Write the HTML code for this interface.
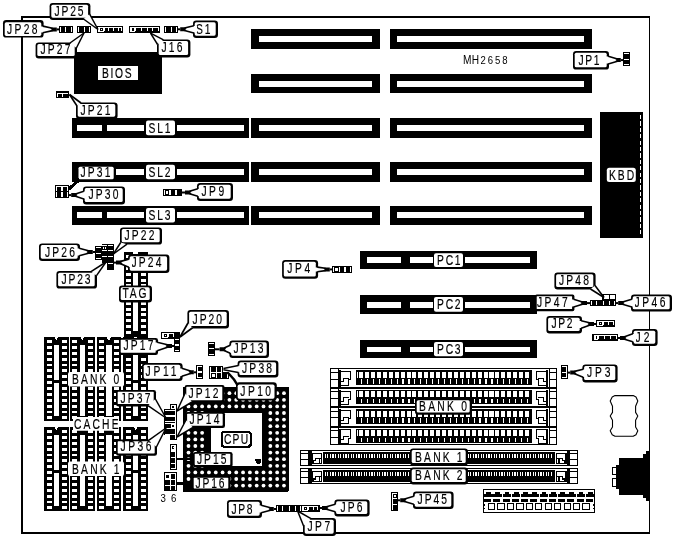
<!DOCTYPE html>
<html><head><meta charset="utf-8"><title>MH2658 motherboard layout</title>
<style>html,body{margin:0;padding:0;background:#fff}svg{display:block;filter:grayscale(1)}text{font-family:"Liberation Sans",sans-serif;fill:#000}</style></head>
<body>
<svg width="675" height="540" viewBox="0 0 675 540" shape-rendering="crispEdges">
<rect width="675" height="540" fill="#fff"/>
<rect x="21" y="16" width="629" height="2" fill="#000"/>
<rect x="21" y="16" width="2" height="518" fill="#000"/>
<rect x="21" y="532" width="629" height="2" fill="#000"/>
<rect x="649" y="16" width="1.2" height="518" fill="#000"/>
<rect x="251.2" y="29.2" width="128.8" height="19.3" fill="#000"/>
<rect x="258.6" y="35.9" width="113.8" height="6.1" fill="#fff"/>
<rect x="390" y="29.2" width="202" height="19.3" fill="#000"/>
<rect x="397.4" y="35.9" width="187" height="6.1" fill="#fff"/>
<rect x="251.2" y="74" width="128.8" height="19.3" fill="#000"/>
<rect x="258.6" y="80.7" width="113.8" height="6.1" fill="#fff"/>
<rect x="390" y="74" width="202" height="19.3" fill="#000"/>
<rect x="397.4" y="80.7" width="187" height="6.1" fill="#fff"/>
<rect x="251.2" y="118.2" width="128.8" height="19.3" fill="#000"/>
<rect x="258.6" y="124.9" width="113.8" height="6.1" fill="#fff"/>
<rect x="390" y="118.2" width="202" height="19.3" fill="#000"/>
<rect x="397.4" y="124.9" width="187" height="6.1" fill="#fff"/>
<rect x="72" y="118.2" width="177" height="19.3" fill="#000"/>
<rect x="77" y="124.9" width="25" height="6.1" fill="#fff"/>
<rect x="107" y="124.9" width="137.4" height="6.1" fill="#fff"/>
<rect x="144" y="124.2" width="33" height="8" fill="#000"/>
<g shape-rendering="geometricPrecision">
<rect x="146" y="120.6" width="29" height="14.6" fill="#fff" rx="2"/>
</g>
<text transform="translate(148.5 132.6) scale(0.72 1)" font-size="14.3" textLength="30.56" lengthAdjust="spacing" stroke="#000" stroke-width="0.18">SL1</text>
<rect x="251.2" y="162.3" width="128.8" height="19.3" fill="#000"/>
<rect x="258.6" y="169" width="113.8" height="6.1" fill="#fff"/>
<rect x="390" y="162.3" width="202" height="19.3" fill="#000"/>
<rect x="397.4" y="169" width="187" height="6.1" fill="#fff"/>
<rect x="72" y="162.3" width="177" height="19.3" fill="#000"/>
<rect x="77" y="169" width="25" height="6.1" fill="#fff"/>
<rect x="107" y="169" width="137.4" height="6.1" fill="#fff"/>
<rect x="144" y="168.3" width="33" height="8" fill="#000"/>
<g shape-rendering="geometricPrecision">
<rect x="146" y="164.7" width="29" height="14.6" fill="#fff" rx="2"/>
</g>
<text transform="translate(148.5 176.7) scale(0.72 1)" font-size="14.3" textLength="30.56" lengthAdjust="spacing" stroke="#000" stroke-width="0.18">SL2</text>
<rect x="251.2" y="205.5" width="128.8" height="19.3" fill="#000"/>
<rect x="258.6" y="212.2" width="113.8" height="6.1" fill="#fff"/>
<rect x="390" y="205.5" width="202" height="19.3" fill="#000"/>
<rect x="397.4" y="212.2" width="187" height="6.1" fill="#fff"/>
<rect x="72" y="205.5" width="177" height="19.3" fill="#000"/>
<rect x="77" y="212.2" width="25" height="6.1" fill="#fff"/>
<rect x="107" y="212.2" width="137.4" height="6.1" fill="#fff"/>
<rect x="144" y="211.5" width="33" height="8" fill="#000"/>
<g shape-rendering="geometricPrecision">
<rect x="146" y="207.9" width="29" height="14.6" fill="#fff" rx="2"/>
</g>
<text transform="translate(148.5 219.9) scale(0.72 1)" font-size="14.3" textLength="30.56" lengthAdjust="spacing" stroke="#000" stroke-width="0.18">SL3</text>
<rect x="360" y="251.2" width="177" height="17.8" fill="#000"/>
<rect x="366.8" y="257.2" width="34.2" height="5.6" fill="#fff"/>
<rect x="410" y="257.2" width="120" height="5.6" fill="#fff"/>
<rect x="432.5" y="256.2" width="32" height="7.6" fill="#000"/>
<g shape-rendering="geometricPrecision">
<rect x="434" y="253.2" width="29" height="13.8" fill="#fff" rx="2"/>
</g>
<text transform="translate(437.1 264.7) scale(0.72 1)" font-size="14.3" textLength="32.5" lengthAdjust="spacing" stroke="#000" stroke-width="0.18">PC1</text>
<rect x="360" y="295" width="177" height="18.8" fill="#000"/>
<rect x="366.8" y="302" width="34.2" height="5.6" fill="#fff"/>
<rect x="410" y="302" width="120" height="5.6" fill="#fff"/>
<rect x="432.5" y="301" width="32" height="7.6" fill="#000"/>
<g shape-rendering="geometricPrecision">
<rect x="434" y="297" width="29" height="14.8" fill="#fff" rx="2"/>
</g>
<text transform="translate(437.1 309) scale(0.72 1)" font-size="14.3" textLength="32.5" lengthAdjust="spacing" stroke="#000" stroke-width="0.18">PC2</text>
<rect x="360" y="340" width="177" height="18.3" fill="#000"/>
<rect x="366.8" y="347" width="34.2" height="5.4" fill="#fff"/>
<rect x="410" y="347" width="120" height="5.4" fill="#fff"/>
<rect x="432.5" y="346" width="32" height="7.4" fill="#000"/>
<g shape-rendering="geometricPrecision">
<rect x="434" y="342" width="29" height="14.3" fill="#fff" rx="2"/>
</g>
<text transform="translate(437.1 353.75) scale(0.72 1)" font-size="14.3" textLength="32.5" lengthAdjust="spacing" stroke="#000" stroke-width="0.18">PC3</text>
<rect x="600" y="112" width="43.4" height="125.6" fill="#000"/>
<line x1="640.6" y1="115" x2="640.6" y2="236" stroke="#fff" stroke-width="1" stroke-dasharray="4.2 2.2"/>
<g shape-rendering="geometricPrecision">
<rect x="606.8" y="167.8" width="29" height="14.2" fill="#fff" rx="2.5"/>
</g>
<text transform="translate(608.9 180) scale(0.72 1)" font-size="14.3" textLength="35" lengthAdjust="spacing" stroke="#000" stroke-width="0.18">KBD</text>
<rect x="74.4" y="52.4" width="87.6" height="41.2" fill="#000"/>
<g shape-rendering="geometricPrecision">
<rect x="98" y="66" width="40" height="14" fill="#fff"/>
</g>
<text transform="translate(101.9 77.6) scale(0.72 1)" font-size="14.3" textLength="41.11" lengthAdjust="spacing" stroke="#000" stroke-width="0.18">BIOS</text>
<text transform="translate(462.9 64) scale(0.82 1)" font-size="12.4" textLength="19.76" lengthAdjust="spacing" stroke="#000" stroke-width="0">MH</text>
<text transform="translate(480.5 64) scale(0.9 1)" font-size="10.6" textLength="30" lengthAdjust="spacing" stroke="#000" stroke-width="0">2658</text>
<rect x="123.8" y="252" width="24.2" height="85" fill="#000"/>
<rect x="126" y="255.4" width="5.2" height="2.9" fill="#fff"/>
<rect x="126" y="261.2" width="5.2" height="2.9" fill="#fff"/>
<rect x="126" y="267" width="5.2" height="2.9" fill="#fff"/>
<rect x="126" y="272.8" width="5.2" height="2.9" fill="#fff"/>
<rect x="126" y="278.6" width="5.2" height="2.9" fill="#fff"/>
<rect x="126" y="284.4" width="5.2" height="2.9" fill="#fff"/>
<rect x="126" y="290.2" width="5.2" height="2.9" fill="#fff"/>
<rect x="126" y="296" width="5.2" height="2.9" fill="#fff"/>
<rect x="126" y="301.8" width="5.2" height="2.9" fill="#fff"/>
<rect x="126" y="307.6" width="5.2" height="2.9" fill="#fff"/>
<rect x="126" y="313.4" width="5.2" height="2.9" fill="#fff"/>
<rect x="126" y="319.2" width="5.2" height="2.9" fill="#fff"/>
<rect x="126" y="325" width="5.2" height="2.9" fill="#fff"/>
<rect x="126" y="330.8" width="5.2" height="2.9" fill="#fff"/>
<rect x="141" y="255.4" width="5.3" height="2.9" fill="#fff"/>
<rect x="141" y="261.2" width="5.3" height="2.9" fill="#fff"/>
<rect x="141" y="267" width="5.3" height="2.9" fill="#fff"/>
<rect x="141" y="272.8" width="5.3" height="2.9" fill="#fff"/>
<rect x="141" y="278.6" width="5.3" height="2.9" fill="#fff"/>
<rect x="141" y="284.4" width="5.3" height="2.9" fill="#fff"/>
<rect x="141" y="290.2" width="5.3" height="2.9" fill="#fff"/>
<rect x="141" y="296" width="5.3" height="2.9" fill="#fff"/>
<rect x="141" y="301.8" width="5.3" height="2.9" fill="#fff"/>
<rect x="141" y="307.6" width="5.3" height="2.9" fill="#fff"/>
<rect x="141" y="313.4" width="5.3" height="2.9" fill="#fff"/>
<rect x="141" y="319.2" width="5.3" height="2.9" fill="#fff"/>
<rect x="141" y="325" width="5.3" height="2.9" fill="#fff"/>
<rect x="141" y="330.8" width="5.3" height="2.9" fill="#fff"/>
<rect x="133" y="256" width="5" height="74.7" fill="#fff"/>
<rect x="133.4" y="252" width="4.4" height="2" fill="#fff"/>
<rect x="44" y="337" width="24.8" height="83.6" fill="#000"/>
<rect x="47.1" y="340" width="4.9" height="2.9" fill="#fff"/>
<rect x="47.1" y="345.88" width="4.9" height="2.9" fill="#fff"/>
<rect x="47.1" y="351.76" width="4.9" height="2.9" fill="#fff"/>
<rect x="47.1" y="357.64" width="4.9" height="2.9" fill="#fff"/>
<rect x="47.1" y="363.52" width="4.9" height="2.9" fill="#fff"/>
<rect x="47.1" y="369.4" width="4.9" height="2.9" fill="#fff"/>
<rect x="47.1" y="375.28" width="4.9" height="2.9" fill="#fff"/>
<rect x="47.1" y="381.16" width="4.9" height="2.9" fill="#fff"/>
<rect x="47.1" y="387.04" width="4.9" height="2.9" fill="#fff"/>
<rect x="47.1" y="392.92" width="4.9" height="2.9" fill="#fff"/>
<rect x="47.1" y="398.8" width="4.9" height="2.9" fill="#fff"/>
<rect x="47.1" y="404.68" width="4.9" height="2.9" fill="#fff"/>
<rect x="47.1" y="410.56" width="4.9" height="2.9" fill="#fff"/>
<rect x="47.1" y="416.44" width="4.9" height="2.9" fill="#fff"/>
<rect x="62" y="340" width="5.1" height="2.9" fill="#fff"/>
<rect x="62" y="345.88" width="5.1" height="2.9" fill="#fff"/>
<rect x="62" y="351.76" width="5.1" height="2.9" fill="#fff"/>
<rect x="62" y="357.64" width="5.1" height="2.9" fill="#fff"/>
<rect x="62" y="363.52" width="5.1" height="2.9" fill="#fff"/>
<rect x="62" y="369.4" width="5.1" height="2.9" fill="#fff"/>
<rect x="62" y="375.28" width="5.1" height="2.9" fill="#fff"/>
<rect x="62" y="381.16" width="5.1" height="2.9" fill="#fff"/>
<rect x="62" y="387.04" width="5.1" height="2.9" fill="#fff"/>
<rect x="62" y="392.92" width="5.1" height="2.9" fill="#fff"/>
<rect x="62" y="398.8" width="5.1" height="2.9" fill="#fff"/>
<rect x="62" y="404.68" width="5.1" height="2.9" fill="#fff"/>
<rect x="62" y="410.56" width="5.1" height="2.9" fill="#fff"/>
<rect x="62" y="416.44" width="5.1" height="2.9" fill="#fff"/>
<rect x="53.8" y="345" width="5" height="35" fill="#fff"/>
<rect x="53.8" y="383.4" width="5" height="32.2" fill="#fff"/>
<polygon points="54.6,337 55.6,339.6 57,339.6 58,337" fill="#fff"/>
<rect x="70" y="337" width="25" height="83.6" fill="#000"/>
<rect x="72" y="340" width="5.1" height="2.9" fill="#fff"/>
<rect x="72" y="345.88" width="5.1" height="2.9" fill="#fff"/>
<rect x="72" y="351.76" width="5.1" height="2.9" fill="#fff"/>
<rect x="72" y="357.64" width="5.1" height="2.9" fill="#fff"/>
<rect x="72" y="363.52" width="5.1" height="2.9" fill="#fff"/>
<rect x="72" y="369.4" width="5.1" height="2.9" fill="#fff"/>
<rect x="72" y="375.28" width="5.1" height="2.9" fill="#fff"/>
<rect x="72" y="381.16" width="5.1" height="2.9" fill="#fff"/>
<rect x="72" y="387.04" width="5.1" height="2.9" fill="#fff"/>
<rect x="72" y="392.92" width="5.1" height="2.9" fill="#fff"/>
<rect x="72" y="398.8" width="5.1" height="2.9" fill="#fff"/>
<rect x="72" y="404.68" width="5.1" height="2.9" fill="#fff"/>
<rect x="72" y="410.56" width="5.1" height="2.9" fill="#fff"/>
<rect x="72" y="416.44" width="5.1" height="2.9" fill="#fff"/>
<rect x="88" y="340" width="5.1" height="2.9" fill="#fff"/>
<rect x="88" y="345.88" width="5.1" height="2.9" fill="#fff"/>
<rect x="88" y="351.76" width="5.1" height="2.9" fill="#fff"/>
<rect x="88" y="357.64" width="5.1" height="2.9" fill="#fff"/>
<rect x="88" y="363.52" width="5.1" height="2.9" fill="#fff"/>
<rect x="88" y="369.4" width="5.1" height="2.9" fill="#fff"/>
<rect x="88" y="375.28" width="5.1" height="2.9" fill="#fff"/>
<rect x="88" y="381.16" width="5.1" height="2.9" fill="#fff"/>
<rect x="88" y="387.04" width="5.1" height="2.9" fill="#fff"/>
<rect x="88" y="392.92" width="5.1" height="2.9" fill="#fff"/>
<rect x="88" y="398.8" width="5.1" height="2.9" fill="#fff"/>
<rect x="88" y="404.68" width="5.1" height="2.9" fill="#fff"/>
<rect x="88" y="410.56" width="5.1" height="2.9" fill="#fff"/>
<rect x="88" y="416.44" width="5.1" height="2.9" fill="#fff"/>
<rect x="79.8" y="345" width="5" height="35" fill="#fff"/>
<rect x="79.8" y="383.4" width="5" height="32.2" fill="#fff"/>
<polygon points="80.6,337 81.6,339.6 83,339.6 84,337" fill="#fff"/>
<rect x="97" y="337" width="23.8" height="83.6" fill="#000"/>
<rect x="99.1" y="340" width="4.9" height="2.9" fill="#fff"/>
<rect x="99.1" y="345.88" width="4.9" height="2.9" fill="#fff"/>
<rect x="99.1" y="351.76" width="4.9" height="2.9" fill="#fff"/>
<rect x="99.1" y="357.64" width="4.9" height="2.9" fill="#fff"/>
<rect x="99.1" y="363.52" width="4.9" height="2.9" fill="#fff"/>
<rect x="99.1" y="369.4" width="4.9" height="2.9" fill="#fff"/>
<rect x="99.1" y="375.28" width="4.9" height="2.9" fill="#fff"/>
<rect x="99.1" y="381.16" width="4.9" height="2.9" fill="#fff"/>
<rect x="99.1" y="387.04" width="4.9" height="2.9" fill="#fff"/>
<rect x="99.1" y="392.92" width="4.9" height="2.9" fill="#fff"/>
<rect x="99.1" y="398.8" width="4.9" height="2.9" fill="#fff"/>
<rect x="99.1" y="404.68" width="4.9" height="2.9" fill="#fff"/>
<rect x="99.1" y="410.56" width="4.9" height="2.9" fill="#fff"/>
<rect x="99.1" y="416.44" width="4.9" height="2.9" fill="#fff"/>
<rect x="114" y="340" width="5.3" height="2.9" fill="#fff"/>
<rect x="114" y="345.88" width="5.3" height="2.9" fill="#fff"/>
<rect x="114" y="351.76" width="5.3" height="2.9" fill="#fff"/>
<rect x="114" y="357.64" width="5.3" height="2.9" fill="#fff"/>
<rect x="114" y="363.52" width="5.3" height="2.9" fill="#fff"/>
<rect x="114" y="369.4" width="5.3" height="2.9" fill="#fff"/>
<rect x="114" y="375.28" width="5.3" height="2.9" fill="#fff"/>
<rect x="114" y="381.16" width="5.3" height="2.9" fill="#fff"/>
<rect x="114" y="387.04" width="5.3" height="2.9" fill="#fff"/>
<rect x="114" y="392.92" width="5.3" height="2.9" fill="#fff"/>
<rect x="114" y="398.8" width="5.3" height="2.9" fill="#fff"/>
<rect x="114" y="404.68" width="5.3" height="2.9" fill="#fff"/>
<rect x="114" y="410.56" width="5.3" height="2.9" fill="#fff"/>
<rect x="114" y="416.44" width="5.3" height="2.9" fill="#fff"/>
<rect x="106" y="345" width="5.8" height="35" fill="#fff"/>
<rect x="106" y="383.4" width="5.8" height="32.2" fill="#fff"/>
<polygon points="106.8,337 107.8,339.6 110,339.6 111,337" fill="#fff"/>
<rect x="122.9" y="337" width="25.1" height="83.6" fill="#000"/>
<rect x="126" y="340" width="5.2" height="2.9" fill="#fff"/>
<rect x="126" y="345.88" width="5.2" height="2.9" fill="#fff"/>
<rect x="126" y="351.76" width="5.2" height="2.9" fill="#fff"/>
<rect x="126" y="357.64" width="5.2" height="2.9" fill="#fff"/>
<rect x="126" y="363.52" width="5.2" height="2.9" fill="#fff"/>
<rect x="126" y="369.4" width="5.2" height="2.9" fill="#fff"/>
<rect x="126" y="375.28" width="5.2" height="2.9" fill="#fff"/>
<rect x="126" y="381.16" width="5.2" height="2.9" fill="#fff"/>
<rect x="126" y="387.04" width="5.2" height="2.9" fill="#fff"/>
<rect x="126" y="392.92" width="5.2" height="2.9" fill="#fff"/>
<rect x="126" y="398.8" width="5.2" height="2.9" fill="#fff"/>
<rect x="126" y="404.68" width="5.2" height="2.9" fill="#fff"/>
<rect x="126" y="410.56" width="5.2" height="2.9" fill="#fff"/>
<rect x="126" y="416.44" width="5.2" height="2.9" fill="#fff"/>
<rect x="141" y="340" width="5.3" height="2.9" fill="#fff"/>
<rect x="141" y="345.88" width="5.3" height="2.9" fill="#fff"/>
<rect x="141" y="351.76" width="5.3" height="2.9" fill="#fff"/>
<rect x="141" y="357.64" width="5.3" height="2.9" fill="#fff"/>
<rect x="141" y="363.52" width="5.3" height="2.9" fill="#fff"/>
<rect x="141" y="369.4" width="5.3" height="2.9" fill="#fff"/>
<rect x="141" y="375.28" width="5.3" height="2.9" fill="#fff"/>
<rect x="141" y="381.16" width="5.3" height="2.9" fill="#fff"/>
<rect x="141" y="387.04" width="5.3" height="2.9" fill="#fff"/>
<rect x="141" y="392.92" width="5.3" height="2.9" fill="#fff"/>
<rect x="141" y="398.8" width="5.3" height="2.9" fill="#fff"/>
<rect x="141" y="404.68" width="5.3" height="2.9" fill="#fff"/>
<rect x="141" y="410.56" width="5.3" height="2.9" fill="#fff"/>
<rect x="141" y="416.44" width="5.3" height="2.9" fill="#fff"/>
<rect x="133.4" y="345" width="4.6" height="35" fill="#fff"/>
<rect x="133.4" y="383.4" width="4.6" height="32.2" fill="#fff"/>
<polygon points="134.2,337 135.2,339.6 136.2,339.6 137.2,337" fill="#fff"/>
<rect x="44" y="427" width="24.8" height="84" fill="#000"/>
<rect x="47.1" y="430" width="4.9" height="2.9" fill="#fff"/>
<rect x="47.1" y="435.88" width="4.9" height="2.9" fill="#fff"/>
<rect x="47.1" y="441.76" width="4.9" height="2.9" fill="#fff"/>
<rect x="47.1" y="447.64" width="4.9" height="2.9" fill="#fff"/>
<rect x="47.1" y="453.52" width="4.9" height="2.9" fill="#fff"/>
<rect x="47.1" y="459.4" width="4.9" height="2.9" fill="#fff"/>
<rect x="47.1" y="465.28" width="4.9" height="2.9" fill="#fff"/>
<rect x="47.1" y="471.16" width="4.9" height="2.9" fill="#fff"/>
<rect x="47.1" y="477.04" width="4.9" height="2.9" fill="#fff"/>
<rect x="47.1" y="482.92" width="4.9" height="2.9" fill="#fff"/>
<rect x="47.1" y="488.8" width="4.9" height="2.9" fill="#fff"/>
<rect x="47.1" y="494.68" width="4.9" height="2.9" fill="#fff"/>
<rect x="47.1" y="500.56" width="4.9" height="2.9" fill="#fff"/>
<rect x="47.1" y="506.44" width="4.9" height="2.9" fill="#fff"/>
<rect x="62" y="430" width="5.1" height="2.9" fill="#fff"/>
<rect x="62" y="435.88" width="5.1" height="2.9" fill="#fff"/>
<rect x="62" y="441.76" width="5.1" height="2.9" fill="#fff"/>
<rect x="62" y="447.64" width="5.1" height="2.9" fill="#fff"/>
<rect x="62" y="453.52" width="5.1" height="2.9" fill="#fff"/>
<rect x="62" y="459.4" width="5.1" height="2.9" fill="#fff"/>
<rect x="62" y="465.28" width="5.1" height="2.9" fill="#fff"/>
<rect x="62" y="471.16" width="5.1" height="2.9" fill="#fff"/>
<rect x="62" y="477.04" width="5.1" height="2.9" fill="#fff"/>
<rect x="62" y="482.92" width="5.1" height="2.9" fill="#fff"/>
<rect x="62" y="488.8" width="5.1" height="2.9" fill="#fff"/>
<rect x="62" y="494.68" width="5.1" height="2.9" fill="#fff"/>
<rect x="62" y="500.56" width="5.1" height="2.9" fill="#fff"/>
<rect x="62" y="506.44" width="5.1" height="2.9" fill="#fff"/>
<rect x="53.8" y="435" width="5" height="35" fill="#fff"/>
<rect x="53.8" y="473.4" width="5" height="32.6" fill="#fff"/>
<polygon points="54.6,427 55.6,429.6 57,429.6 58,427" fill="#fff"/>
<rect x="70" y="427" width="25" height="84" fill="#000"/>
<rect x="72" y="430" width="5.1" height="2.9" fill="#fff"/>
<rect x="72" y="435.88" width="5.1" height="2.9" fill="#fff"/>
<rect x="72" y="441.76" width="5.1" height="2.9" fill="#fff"/>
<rect x="72" y="447.64" width="5.1" height="2.9" fill="#fff"/>
<rect x="72" y="453.52" width="5.1" height="2.9" fill="#fff"/>
<rect x="72" y="459.4" width="5.1" height="2.9" fill="#fff"/>
<rect x="72" y="465.28" width="5.1" height="2.9" fill="#fff"/>
<rect x="72" y="471.16" width="5.1" height="2.9" fill="#fff"/>
<rect x="72" y="477.04" width="5.1" height="2.9" fill="#fff"/>
<rect x="72" y="482.92" width="5.1" height="2.9" fill="#fff"/>
<rect x="72" y="488.8" width="5.1" height="2.9" fill="#fff"/>
<rect x="72" y="494.68" width="5.1" height="2.9" fill="#fff"/>
<rect x="72" y="500.56" width="5.1" height="2.9" fill="#fff"/>
<rect x="72" y="506.44" width="5.1" height="2.9" fill="#fff"/>
<rect x="88" y="430" width="5.1" height="2.9" fill="#fff"/>
<rect x="88" y="435.88" width="5.1" height="2.9" fill="#fff"/>
<rect x="88" y="441.76" width="5.1" height="2.9" fill="#fff"/>
<rect x="88" y="447.64" width="5.1" height="2.9" fill="#fff"/>
<rect x="88" y="453.52" width="5.1" height="2.9" fill="#fff"/>
<rect x="88" y="459.4" width="5.1" height="2.9" fill="#fff"/>
<rect x="88" y="465.28" width="5.1" height="2.9" fill="#fff"/>
<rect x="88" y="471.16" width="5.1" height="2.9" fill="#fff"/>
<rect x="88" y="477.04" width="5.1" height="2.9" fill="#fff"/>
<rect x="88" y="482.92" width="5.1" height="2.9" fill="#fff"/>
<rect x="88" y="488.8" width="5.1" height="2.9" fill="#fff"/>
<rect x="88" y="494.68" width="5.1" height="2.9" fill="#fff"/>
<rect x="88" y="500.56" width="5.1" height="2.9" fill="#fff"/>
<rect x="88" y="506.44" width="5.1" height="2.9" fill="#fff"/>
<rect x="79.8" y="435" width="5" height="35" fill="#fff"/>
<rect x="79.8" y="473.4" width="5" height="32.6" fill="#fff"/>
<polygon points="80.6,427 81.6,429.6 83,429.6 84,427" fill="#fff"/>
<rect x="97" y="427" width="23.8" height="84" fill="#000"/>
<rect x="99.1" y="430" width="4.9" height="2.9" fill="#fff"/>
<rect x="99.1" y="435.88" width="4.9" height="2.9" fill="#fff"/>
<rect x="99.1" y="441.76" width="4.9" height="2.9" fill="#fff"/>
<rect x="99.1" y="447.64" width="4.9" height="2.9" fill="#fff"/>
<rect x="99.1" y="453.52" width="4.9" height="2.9" fill="#fff"/>
<rect x="99.1" y="459.4" width="4.9" height="2.9" fill="#fff"/>
<rect x="99.1" y="465.28" width="4.9" height="2.9" fill="#fff"/>
<rect x="99.1" y="471.16" width="4.9" height="2.9" fill="#fff"/>
<rect x="99.1" y="477.04" width="4.9" height="2.9" fill="#fff"/>
<rect x="99.1" y="482.92" width="4.9" height="2.9" fill="#fff"/>
<rect x="99.1" y="488.8" width="4.9" height="2.9" fill="#fff"/>
<rect x="99.1" y="494.68" width="4.9" height="2.9" fill="#fff"/>
<rect x="99.1" y="500.56" width="4.9" height="2.9" fill="#fff"/>
<rect x="99.1" y="506.44" width="4.9" height="2.9" fill="#fff"/>
<rect x="114" y="430" width="5.3" height="2.9" fill="#fff"/>
<rect x="114" y="435.88" width="5.3" height="2.9" fill="#fff"/>
<rect x="114" y="441.76" width="5.3" height="2.9" fill="#fff"/>
<rect x="114" y="447.64" width="5.3" height="2.9" fill="#fff"/>
<rect x="114" y="453.52" width="5.3" height="2.9" fill="#fff"/>
<rect x="114" y="459.4" width="5.3" height="2.9" fill="#fff"/>
<rect x="114" y="465.28" width="5.3" height="2.9" fill="#fff"/>
<rect x="114" y="471.16" width="5.3" height="2.9" fill="#fff"/>
<rect x="114" y="477.04" width="5.3" height="2.9" fill="#fff"/>
<rect x="114" y="482.92" width="5.3" height="2.9" fill="#fff"/>
<rect x="114" y="488.8" width="5.3" height="2.9" fill="#fff"/>
<rect x="114" y="494.68" width="5.3" height="2.9" fill="#fff"/>
<rect x="114" y="500.56" width="5.3" height="2.9" fill="#fff"/>
<rect x="114" y="506.44" width="5.3" height="2.9" fill="#fff"/>
<rect x="106" y="435" width="5.8" height="35" fill="#fff"/>
<rect x="106" y="473.4" width="5.8" height="32.6" fill="#fff"/>
<polygon points="106.8,427 107.8,429.6 110,429.6 111,427" fill="#fff"/>
<rect x="122.9" y="427" width="25.1" height="84" fill="#000"/>
<rect x="126" y="430" width="5.2" height="2.9" fill="#fff"/>
<rect x="126" y="435.88" width="5.2" height="2.9" fill="#fff"/>
<rect x="126" y="441.76" width="5.2" height="2.9" fill="#fff"/>
<rect x="126" y="447.64" width="5.2" height="2.9" fill="#fff"/>
<rect x="126" y="453.52" width="5.2" height="2.9" fill="#fff"/>
<rect x="126" y="459.4" width="5.2" height="2.9" fill="#fff"/>
<rect x="126" y="465.28" width="5.2" height="2.9" fill="#fff"/>
<rect x="126" y="471.16" width="5.2" height="2.9" fill="#fff"/>
<rect x="126" y="477.04" width="5.2" height="2.9" fill="#fff"/>
<rect x="126" y="482.92" width="5.2" height="2.9" fill="#fff"/>
<rect x="126" y="488.8" width="5.2" height="2.9" fill="#fff"/>
<rect x="126" y="494.68" width="5.2" height="2.9" fill="#fff"/>
<rect x="126" y="500.56" width="5.2" height="2.9" fill="#fff"/>
<rect x="126" y="506.44" width="5.2" height="2.9" fill="#fff"/>
<rect x="141" y="430" width="5.3" height="2.9" fill="#fff"/>
<rect x="141" y="435.88" width="5.3" height="2.9" fill="#fff"/>
<rect x="141" y="441.76" width="5.3" height="2.9" fill="#fff"/>
<rect x="141" y="447.64" width="5.3" height="2.9" fill="#fff"/>
<rect x="141" y="453.52" width="5.3" height="2.9" fill="#fff"/>
<rect x="141" y="459.4" width="5.3" height="2.9" fill="#fff"/>
<rect x="141" y="465.28" width="5.3" height="2.9" fill="#fff"/>
<rect x="141" y="471.16" width="5.3" height="2.9" fill="#fff"/>
<rect x="141" y="477.04" width="5.3" height="2.9" fill="#fff"/>
<rect x="141" y="482.92" width="5.3" height="2.9" fill="#fff"/>
<rect x="141" y="488.8" width="5.3" height="2.9" fill="#fff"/>
<rect x="141" y="494.68" width="5.3" height="2.9" fill="#fff"/>
<rect x="141" y="500.56" width="5.3" height="2.9" fill="#fff"/>
<rect x="141" y="506.44" width="5.3" height="2.9" fill="#fff"/>
<rect x="133.4" y="435" width="4.6" height="35" fill="#fff"/>
<rect x="133.4" y="473.4" width="4.6" height="32.6" fill="#fff"/>
<polygon points="134.2,427 135.2,429.6 136.2,429.6 137.2,427" fill="#fff"/>
<polygon points="183.4,387 289,387 289,490.8 287.4,492.4 183.4,492.4" fill="#000"/>
<circle cx="188.5" cy="393.2" r="1.9" fill="#fff" shape-rendering="geometricPrecision"/>
<circle cx="188.5" cy="399.8" r="1.9" fill="#fff" shape-rendering="geometricPrecision"/>
<circle cx="188.5" cy="406.4" r="1.9" fill="#fff" shape-rendering="geometricPrecision"/>
<circle cx="188.5" cy="413" r="1.9" fill="#fff" shape-rendering="geometricPrecision"/>
<circle cx="188.5" cy="419.6" r="1.9" fill="#fff" shape-rendering="geometricPrecision"/>
<circle cx="188.5" cy="426.2" r="1.9" fill="#fff" shape-rendering="geometricPrecision"/>
<circle cx="188.5" cy="432.8" r="1.9" fill="#fff" shape-rendering="geometricPrecision"/>
<circle cx="188.5" cy="439.4" r="1.9" fill="#fff" shape-rendering="geometricPrecision"/>
<circle cx="188.5" cy="446" r="1.9" fill="#fff" shape-rendering="geometricPrecision"/>
<circle cx="188.5" cy="452.6" r="1.9" fill="#fff" shape-rendering="geometricPrecision"/>
<circle cx="188.5" cy="459.2" r="1.9" fill="#fff" shape-rendering="geometricPrecision"/>
<circle cx="188.5" cy="465.8" r="1.9" fill="#fff" shape-rendering="geometricPrecision"/>
<circle cx="188.5" cy="472.4" r="1.9" fill="#fff" shape-rendering="geometricPrecision"/>
<circle cx="188.5" cy="479" r="1.9" fill="#fff" shape-rendering="geometricPrecision"/>
<circle cx="195.32" cy="393.2" r="1.9" fill="#fff" shape-rendering="geometricPrecision"/>
<circle cx="195.32" cy="399.8" r="1.9" fill="#fff" shape-rendering="geometricPrecision"/>
<circle cx="195.32" cy="406.4" r="1.9" fill="#fff" shape-rendering="geometricPrecision"/>
<circle cx="195.32" cy="413" r="1.9" fill="#fff" shape-rendering="geometricPrecision"/>
<circle cx="195.32" cy="419.6" r="1.9" fill="#fff" shape-rendering="geometricPrecision"/>
<circle cx="195.32" cy="426.2" r="1.9" fill="#fff" shape-rendering="geometricPrecision"/>
<circle cx="195.32" cy="432.8" r="1.9" fill="#fff" shape-rendering="geometricPrecision"/>
<circle cx="195.32" cy="439.4" r="1.9" fill="#fff" shape-rendering="geometricPrecision"/>
<circle cx="195.32" cy="446" r="1.9" fill="#fff" shape-rendering="geometricPrecision"/>
<circle cx="195.32" cy="452.6" r="1.9" fill="#fff" shape-rendering="geometricPrecision"/>
<circle cx="195.32" cy="459.2" r="1.9" fill="#fff" shape-rendering="geometricPrecision"/>
<circle cx="195.32" cy="465.8" r="1.9" fill="#fff" shape-rendering="geometricPrecision"/>
<circle cx="195.32" cy="472.4" r="1.9" fill="#fff" shape-rendering="geometricPrecision"/>
<circle cx="195.32" cy="479" r="1.9" fill="#fff" shape-rendering="geometricPrecision"/>
<circle cx="195.32" cy="485.6" r="1.9" fill="#fff" shape-rendering="geometricPrecision"/>
<circle cx="202.14" cy="393.2" r="1.9" fill="#fff" shape-rendering="geometricPrecision"/>
<circle cx="202.14" cy="399.8" r="1.9" fill="#fff" shape-rendering="geometricPrecision"/>
<circle cx="202.14" cy="406.4" r="1.9" fill="#fff" shape-rendering="geometricPrecision"/>
<circle cx="202.14" cy="413" r="1.9" fill="#fff" shape-rendering="geometricPrecision"/>
<circle cx="202.14" cy="419.6" r="1.9" fill="#fff" shape-rendering="geometricPrecision"/>
<circle cx="202.14" cy="426.2" r="1.9" fill="#fff" shape-rendering="geometricPrecision"/>
<circle cx="202.14" cy="432.8" r="1.9" fill="#fff" shape-rendering="geometricPrecision"/>
<circle cx="202.14" cy="439.4" r="1.9" fill="#fff" shape-rendering="geometricPrecision"/>
<circle cx="202.14" cy="446" r="1.9" fill="#fff" shape-rendering="geometricPrecision"/>
<circle cx="202.14" cy="452.6" r="1.9" fill="#fff" shape-rendering="geometricPrecision"/>
<circle cx="202.14" cy="459.2" r="1.9" fill="#fff" shape-rendering="geometricPrecision"/>
<circle cx="202.14" cy="465.8" r="1.9" fill="#fff" shape-rendering="geometricPrecision"/>
<circle cx="202.14" cy="472.4" r="1.9" fill="#fff" shape-rendering="geometricPrecision"/>
<circle cx="202.14" cy="479" r="1.9" fill="#fff" shape-rendering="geometricPrecision"/>
<circle cx="202.14" cy="485.6" r="1.9" fill="#fff" shape-rendering="geometricPrecision"/>
<circle cx="208.96" cy="393.2" r="1.9" fill="#fff" shape-rendering="geometricPrecision"/>
<circle cx="208.96" cy="399.8" r="1.9" fill="#fff" shape-rendering="geometricPrecision"/>
<circle cx="208.96" cy="406.4" r="1.9" fill="#fff" shape-rendering="geometricPrecision"/>
<circle cx="208.96" cy="472.4" r="1.9" fill="#fff" shape-rendering="geometricPrecision"/>
<circle cx="208.96" cy="479" r="1.9" fill="#fff" shape-rendering="geometricPrecision"/>
<circle cx="208.96" cy="485.6" r="1.9" fill="#fff" shape-rendering="geometricPrecision"/>
<circle cx="215.78" cy="393.2" r="1.9" fill="#fff" shape-rendering="geometricPrecision"/>
<circle cx="215.78" cy="399.8" r="1.9" fill="#fff" shape-rendering="geometricPrecision"/>
<circle cx="215.78" cy="406.4" r="1.9" fill="#fff" shape-rendering="geometricPrecision"/>
<circle cx="215.78" cy="472.4" r="1.9" fill="#fff" shape-rendering="geometricPrecision"/>
<circle cx="215.78" cy="479" r="1.9" fill="#fff" shape-rendering="geometricPrecision"/>
<circle cx="215.78" cy="485.6" r="1.9" fill="#fff" shape-rendering="geometricPrecision"/>
<circle cx="222.6" cy="393.2" r="1.9" fill="#fff" shape-rendering="geometricPrecision"/>
<circle cx="222.6" cy="399.8" r="1.9" fill="#fff" shape-rendering="geometricPrecision"/>
<circle cx="222.6" cy="406.4" r="1.9" fill="#fff" shape-rendering="geometricPrecision"/>
<circle cx="222.6" cy="472.4" r="1.9" fill="#fff" shape-rendering="geometricPrecision"/>
<circle cx="222.6" cy="479" r="1.9" fill="#fff" shape-rendering="geometricPrecision"/>
<circle cx="222.6" cy="485.6" r="1.9" fill="#fff" shape-rendering="geometricPrecision"/>
<circle cx="229.42" cy="393.2" r="1.9" fill="#fff" shape-rendering="geometricPrecision"/>
<circle cx="229.42" cy="399.8" r="1.9" fill="#fff" shape-rendering="geometricPrecision"/>
<circle cx="229.42" cy="406.4" r="1.9" fill="#fff" shape-rendering="geometricPrecision"/>
<circle cx="229.42" cy="472.4" r="1.9" fill="#fff" shape-rendering="geometricPrecision"/>
<circle cx="229.42" cy="479" r="1.9" fill="#fff" shape-rendering="geometricPrecision"/>
<circle cx="229.42" cy="485.6" r="1.9" fill="#fff" shape-rendering="geometricPrecision"/>
<circle cx="236.24" cy="393.2" r="1.9" fill="#fff" shape-rendering="geometricPrecision"/>
<circle cx="236.24" cy="399.8" r="1.9" fill="#fff" shape-rendering="geometricPrecision"/>
<circle cx="236.24" cy="406.4" r="1.9" fill="#fff" shape-rendering="geometricPrecision"/>
<circle cx="236.24" cy="472.4" r="1.9" fill="#fff" shape-rendering="geometricPrecision"/>
<circle cx="236.24" cy="479" r="1.9" fill="#fff" shape-rendering="geometricPrecision"/>
<circle cx="236.24" cy="485.6" r="1.9" fill="#fff" shape-rendering="geometricPrecision"/>
<circle cx="243.06" cy="393.2" r="1.9" fill="#fff" shape-rendering="geometricPrecision"/>
<circle cx="243.06" cy="399.8" r="1.9" fill="#fff" shape-rendering="geometricPrecision"/>
<circle cx="243.06" cy="406.4" r="1.9" fill="#fff" shape-rendering="geometricPrecision"/>
<circle cx="243.06" cy="472.4" r="1.9" fill="#fff" shape-rendering="geometricPrecision"/>
<circle cx="243.06" cy="479" r="1.9" fill="#fff" shape-rendering="geometricPrecision"/>
<circle cx="243.06" cy="485.6" r="1.9" fill="#fff" shape-rendering="geometricPrecision"/>
<circle cx="249.88" cy="393.2" r="1.9" fill="#fff" shape-rendering="geometricPrecision"/>
<circle cx="249.88" cy="399.8" r="1.9" fill="#fff" shape-rendering="geometricPrecision"/>
<circle cx="249.88" cy="406.4" r="1.9" fill="#fff" shape-rendering="geometricPrecision"/>
<circle cx="249.88" cy="472.4" r="1.9" fill="#fff" shape-rendering="geometricPrecision"/>
<circle cx="249.88" cy="479" r="1.9" fill="#fff" shape-rendering="geometricPrecision"/>
<circle cx="249.88" cy="485.6" r="1.9" fill="#fff" shape-rendering="geometricPrecision"/>
<circle cx="256.7" cy="393.2" r="1.9" fill="#fff" shape-rendering="geometricPrecision"/>
<circle cx="256.7" cy="399.8" r="1.9" fill="#fff" shape-rendering="geometricPrecision"/>
<circle cx="256.7" cy="406.4" r="1.9" fill="#fff" shape-rendering="geometricPrecision"/>
<circle cx="256.7" cy="472.4" r="1.9" fill="#fff" shape-rendering="geometricPrecision"/>
<circle cx="256.7" cy="479" r="1.9" fill="#fff" shape-rendering="geometricPrecision"/>
<circle cx="256.7" cy="485.6" r="1.9" fill="#fff" shape-rendering="geometricPrecision"/>
<circle cx="263.52" cy="393.2" r="1.9" fill="#fff" shape-rendering="geometricPrecision"/>
<circle cx="263.52" cy="399.8" r="1.9" fill="#fff" shape-rendering="geometricPrecision"/>
<circle cx="263.52" cy="406.4" r="1.9" fill="#fff" shape-rendering="geometricPrecision"/>
<circle cx="263.52" cy="472.4" r="1.9" fill="#fff" shape-rendering="geometricPrecision"/>
<circle cx="263.52" cy="479" r="1.9" fill="#fff" shape-rendering="geometricPrecision"/>
<circle cx="263.52" cy="485.6" r="1.9" fill="#fff" shape-rendering="geometricPrecision"/>
<circle cx="270.34" cy="393.2" r="1.9" fill="#fff" shape-rendering="geometricPrecision"/>
<circle cx="270.34" cy="399.8" r="1.9" fill="#fff" shape-rendering="geometricPrecision"/>
<circle cx="270.34" cy="406.4" r="1.9" fill="#fff" shape-rendering="geometricPrecision"/>
<circle cx="270.34" cy="413" r="1.9" fill="#fff" shape-rendering="geometricPrecision"/>
<circle cx="270.34" cy="419.6" r="1.9" fill="#fff" shape-rendering="geometricPrecision"/>
<circle cx="270.34" cy="426.2" r="1.9" fill="#fff" shape-rendering="geometricPrecision"/>
<circle cx="270.34" cy="432.8" r="1.9" fill="#fff" shape-rendering="geometricPrecision"/>
<circle cx="270.34" cy="439.4" r="1.9" fill="#fff" shape-rendering="geometricPrecision"/>
<circle cx="270.34" cy="446" r="1.9" fill="#fff" shape-rendering="geometricPrecision"/>
<circle cx="270.34" cy="452.6" r="1.9" fill="#fff" shape-rendering="geometricPrecision"/>
<circle cx="270.34" cy="459.2" r="1.9" fill="#fff" shape-rendering="geometricPrecision"/>
<circle cx="270.34" cy="465.8" r="1.9" fill="#fff" shape-rendering="geometricPrecision"/>
<circle cx="270.34" cy="472.4" r="1.9" fill="#fff" shape-rendering="geometricPrecision"/>
<circle cx="270.34" cy="479" r="1.9" fill="#fff" shape-rendering="geometricPrecision"/>
<circle cx="270.34" cy="485.6" r="1.9" fill="#fff" shape-rendering="geometricPrecision"/>
<circle cx="277.16" cy="393.2" r="1.9" fill="#fff" shape-rendering="geometricPrecision"/>
<circle cx="277.16" cy="399.8" r="1.9" fill="#fff" shape-rendering="geometricPrecision"/>
<circle cx="277.16" cy="406.4" r="1.9" fill="#fff" shape-rendering="geometricPrecision"/>
<circle cx="277.16" cy="413" r="1.9" fill="#fff" shape-rendering="geometricPrecision"/>
<circle cx="277.16" cy="419.6" r="1.9" fill="#fff" shape-rendering="geometricPrecision"/>
<circle cx="277.16" cy="426.2" r="1.9" fill="#fff" shape-rendering="geometricPrecision"/>
<circle cx="277.16" cy="432.8" r="1.9" fill="#fff" shape-rendering="geometricPrecision"/>
<circle cx="277.16" cy="439.4" r="1.9" fill="#fff" shape-rendering="geometricPrecision"/>
<circle cx="277.16" cy="446" r="1.9" fill="#fff" shape-rendering="geometricPrecision"/>
<circle cx="277.16" cy="452.6" r="1.9" fill="#fff" shape-rendering="geometricPrecision"/>
<circle cx="277.16" cy="459.2" r="1.9" fill="#fff" shape-rendering="geometricPrecision"/>
<circle cx="277.16" cy="465.8" r="1.9" fill="#fff" shape-rendering="geometricPrecision"/>
<circle cx="277.16" cy="472.4" r="1.9" fill="#fff" shape-rendering="geometricPrecision"/>
<circle cx="277.16" cy="479" r="1.9" fill="#fff" shape-rendering="geometricPrecision"/>
<circle cx="277.16" cy="485.6" r="1.9" fill="#fff" shape-rendering="geometricPrecision"/>
<circle cx="283.98" cy="393.2" r="1.9" fill="#fff" shape-rendering="geometricPrecision"/>
<circle cx="283.98" cy="399.8" r="1.9" fill="#fff" shape-rendering="geometricPrecision"/>
<circle cx="283.98" cy="406.4" r="1.9" fill="#fff" shape-rendering="geometricPrecision"/>
<circle cx="283.98" cy="413" r="1.9" fill="#fff" shape-rendering="geometricPrecision"/>
<circle cx="283.98" cy="419.6" r="1.9" fill="#fff" shape-rendering="geometricPrecision"/>
<circle cx="283.98" cy="426.2" r="1.9" fill="#fff" shape-rendering="geometricPrecision"/>
<circle cx="283.98" cy="432.8" r="1.9" fill="#fff" shape-rendering="geometricPrecision"/>
<circle cx="283.98" cy="439.4" r="1.9" fill="#fff" shape-rendering="geometricPrecision"/>
<circle cx="283.98" cy="446" r="1.9" fill="#fff" shape-rendering="geometricPrecision"/>
<circle cx="283.98" cy="452.6" r="1.9" fill="#fff" shape-rendering="geometricPrecision"/>
<circle cx="283.98" cy="459.2" r="1.9" fill="#fff" shape-rendering="geometricPrecision"/>
<circle cx="283.98" cy="465.8" r="1.9" fill="#fff" shape-rendering="geometricPrecision"/>
<circle cx="283.98" cy="472.4" r="1.9" fill="#fff" shape-rendering="geometricPrecision"/>
<circle cx="283.98" cy="479" r="1.9" fill="#fff" shape-rendering="geometricPrecision"/>
<circle cx="283.98" cy="485.6" r="1.9" fill="#fff" shape-rendering="geometricPrecision"/>
<rect x="210.6" y="413" width="51.4" height="53" fill="#fff"/>
<polygon points="255.6,459 261,459 261,462.6 259.6,464 257.6,464 255,460.6" fill="#000"/>
<rect x="330.2" y="368.2" width="226.8" height="20.1" fill="#000"/>
<rect x="331.2" y="369.2" width="224.8" height="17.9" fill="#fff"/>
<rect x="536.1" y="371" width="10.3" height="1" fill="#000"/>
<rect x="536.1" y="371" width="1" height="9.4" fill="#000"/>
<rect x="536.1" y="379.4" width="3.1" height="1" fill="#000"/>
<rect x="538.2" y="379.4" width="1" height="6.1" fill="#000"/>
<rect x="538.2" y="384.5" width="8.2" height="1" fill="#000"/>
<rect x="538.4" y="377.8" width="5.4" height="1" fill="#000"/>
<rect x="542.8" y="377.8" width="1" height="4.2" fill="#000"/>
<rect x="542.8" y="381" width="3.6" height="1" fill="#000"/>
<rect x="546" y="370.2" width="1.8" height="17.5" fill="#000"/>
<rect x="548.7" y="368.2" width="1" height="19.5" fill="#000"/>
<rect x="549.7" y="371.8" width="7.3" height="1" fill="#000"/>
<rect x="549.7" y="378.5" width="7.3" height="1" fill="#000"/>
<g transform="translate(887.2 0) scale(-1 1)">
<rect x="536.1" y="371" width="10.3" height="1" fill="#000"/>
<rect x="536.1" y="371" width="1" height="9.4" fill="#000"/>
<rect x="536.1" y="379.4" width="3.1" height="1" fill="#000"/>
<rect x="538.2" y="379.4" width="1" height="6.1" fill="#000"/>
<rect x="538.2" y="384.5" width="8.2" height="1" fill="#000"/>
<rect x="538.4" y="377.8" width="5.4" height="1" fill="#000"/>
<rect x="542.8" y="377.8" width="1" height="4.2" fill="#000"/>
<rect x="542.8" y="381" width="3.6" height="1" fill="#000"/>
<rect x="546" y="370.2" width="1.8" height="17.5" fill="#000"/>
<rect x="548.7" y="368.2" width="1" height="19.5" fill="#000"/>
<rect x="549.7" y="371.8" width="7.3" height="1" fill="#000"/>
<rect x="549.7" y="378.5" width="7.3" height="1" fill="#000"/>
</g>
<rect x="356.2" y="370.2" width="175.8" height="14.7" fill="#000"/>
<rect x="357.3" y="371.8" width="0.8" height="6.1" fill="#fff"/>
<rect x="359.1" y="371.9" width="4.07" height="6" fill="#fff"/>
<rect x="360.96" y="379.2" width="1.2" height="4.7" fill="#fff"/>
<rect x="365.02" y="371.9" width="4.07" height="6" fill="#fff"/>
<rect x="366.89" y="379.2" width="1.2" height="4.7" fill="#fff"/>
<rect x="370.95" y="371.9" width="4.07" height="6" fill="#fff"/>
<rect x="372.81" y="379.2" width="1.2" height="4.7" fill="#fff"/>
<rect x="376.87" y="371.9" width="4.07" height="6" fill="#fff"/>
<rect x="378.74" y="379.2" width="1.2" height="4.7" fill="#fff"/>
<rect x="382.8" y="371.9" width="4.07" height="6" fill="#fff"/>
<rect x="384.66" y="379.2" width="1.2" height="4.7" fill="#fff"/>
<rect x="388.72" y="371.9" width="4.07" height="6" fill="#fff"/>
<rect x="390.59" y="379.2" width="1.2" height="4.7" fill="#fff"/>
<rect x="394.65" y="371.9" width="4.07" height="6" fill="#fff"/>
<rect x="396.51" y="379.2" width="1.2" height="4.7" fill="#fff"/>
<rect x="400.57" y="371.9" width="4.07" height="6" fill="#fff"/>
<rect x="402.44" y="379.2" width="1.2" height="4.7" fill="#fff"/>
<rect x="406.5" y="371.9" width="4.07" height="6" fill="#fff"/>
<rect x="408.36" y="379.2" width="1.2" height="4.7" fill="#fff"/>
<rect x="412.42" y="371.9" width="4.07" height="6" fill="#fff"/>
<rect x="414.29" y="379.2" width="1.2" height="4.7" fill="#fff"/>
<rect x="418.35" y="371.9" width="4.07" height="6" fill="#fff"/>
<rect x="420.21" y="379.2" width="1.2" height="4.7" fill="#fff"/>
<rect x="424.27" y="371.9" width="4.07" height="6" fill="#fff"/>
<rect x="426.14" y="379.2" width="1.2" height="4.7" fill="#fff"/>
<rect x="430.2" y="371.9" width="4.07" height="6" fill="#fff"/>
<rect x="432.06" y="379.2" width="1.2" height="4.7" fill="#fff"/>
<rect x="436.12" y="371.9" width="4.07" height="6" fill="#fff"/>
<rect x="437.99" y="379.2" width="1.2" height="4.7" fill="#fff"/>
<rect x="442.05" y="371.9" width="4.07" height="6" fill="#fff"/>
<rect x="443.91" y="379.2" width="1.2" height="4.7" fill="#fff"/>
<rect x="447.97" y="371.9" width="4.07" height="6" fill="#fff"/>
<rect x="449.84" y="379.2" width="1.2" height="4.7" fill="#fff"/>
<rect x="453.9" y="371.9" width="4.07" height="6" fill="#fff"/>
<rect x="455.76" y="379.2" width="1.2" height="4.7" fill="#fff"/>
<rect x="459.82" y="371.9" width="4.07" height="6" fill="#fff"/>
<rect x="461.69" y="379.2" width="1.2" height="4.7" fill="#fff"/>
<rect x="465.75" y="371.9" width="4.07" height="6" fill="#fff"/>
<rect x="467.61" y="379.2" width="1.2" height="4.7" fill="#fff"/>
<rect x="471.67" y="371.9" width="4.07" height="6" fill="#fff"/>
<rect x="473.54" y="379.2" width="1.2" height="4.7" fill="#fff"/>
<rect x="477.6" y="371.9" width="4.07" height="6" fill="#fff"/>
<rect x="479.46" y="379.2" width="1.2" height="4.7" fill="#fff"/>
<rect x="483.52" y="371.9" width="4.07" height="6" fill="#fff"/>
<rect x="485.39" y="379.2" width="1.2" height="4.7" fill="#fff"/>
<rect x="489.45" y="371.9" width="4.07" height="6" fill="#fff"/>
<rect x="491.31" y="379.2" width="1.2" height="4.7" fill="#fff"/>
<rect x="495.38" y="371.9" width="4.07" height="6" fill="#fff"/>
<rect x="497.24" y="379.2" width="1.2" height="4.7" fill="#fff"/>
<rect x="501.3" y="371.9" width="4.07" height="6" fill="#fff"/>
<rect x="503.16" y="379.2" width="1.2" height="4.7" fill="#fff"/>
<rect x="507.22" y="371.9" width="4.07" height="6" fill="#fff"/>
<rect x="509.09" y="379.2" width="1.2" height="4.7" fill="#fff"/>
<rect x="513.15" y="371.9" width="4.07" height="6" fill="#fff"/>
<rect x="515.01" y="379.2" width="1.2" height="4.7" fill="#fff"/>
<rect x="519.07" y="371.9" width="4.07" height="6" fill="#fff"/>
<rect x="520.94" y="379.2" width="1.2" height="4.7" fill="#fff"/>
<rect x="525" y="371.9" width="4.07" height="6" fill="#fff"/>
<rect x="526.86" y="379.2" width="1.2" height="4.7" fill="#fff"/>
<rect x="330.2" y="387.7" width="226.8" height="19.9" fill="#000"/>
<rect x="331.2" y="388.7" width="224.8" height="17.7" fill="#fff"/>
<rect x="536.1" y="390.5" width="10.3" height="1" fill="#000"/>
<rect x="536.1" y="390.5" width="1" height="9.4" fill="#000"/>
<rect x="536.1" y="398.9" width="3.1" height="1" fill="#000"/>
<rect x="538.2" y="398.9" width="1" height="6.1" fill="#000"/>
<rect x="538.2" y="404" width="8.2" height="1" fill="#000"/>
<rect x="538.4" y="397.3" width="5.4" height="1" fill="#000"/>
<rect x="542.8" y="397.3" width="1" height="4.2" fill="#000"/>
<rect x="542.8" y="400.5" width="3.6" height="1" fill="#000"/>
<rect x="546" y="389.7" width="1.8" height="17.3" fill="#000"/>
<rect x="548.7" y="387.7" width="1" height="19.3" fill="#000"/>
<rect x="549.7" y="391.3" width="7.3" height="1" fill="#000"/>
<rect x="549.7" y="398" width="7.3" height="1" fill="#000"/>
<g transform="translate(887.2 0) scale(-1 1)">
<rect x="536.1" y="390.5" width="10.3" height="1" fill="#000"/>
<rect x="536.1" y="390.5" width="1" height="9.4" fill="#000"/>
<rect x="536.1" y="398.9" width="3.1" height="1" fill="#000"/>
<rect x="538.2" y="398.9" width="1" height="6.1" fill="#000"/>
<rect x="538.2" y="404" width="8.2" height="1" fill="#000"/>
<rect x="538.4" y="397.3" width="5.4" height="1" fill="#000"/>
<rect x="542.8" y="397.3" width="1" height="4.2" fill="#000"/>
<rect x="542.8" y="400.5" width="3.6" height="1" fill="#000"/>
<rect x="546" y="389.7" width="1.8" height="17.3" fill="#000"/>
<rect x="548.7" y="387.7" width="1" height="19.3" fill="#000"/>
<rect x="549.7" y="391.3" width="7.3" height="1" fill="#000"/>
<rect x="549.7" y="398" width="7.3" height="1" fill="#000"/>
</g>
<rect x="356.2" y="389.7" width="175.8" height="14.7" fill="#000"/>
<rect x="357.3" y="391.3" width="0.8" height="6.1" fill="#fff"/>
<rect x="359.1" y="391.4" width="4.07" height="6" fill="#fff"/>
<rect x="360.96" y="398.7" width="1.2" height="4.7" fill="#fff"/>
<rect x="365.02" y="391.4" width="4.07" height="6" fill="#fff"/>
<rect x="366.89" y="398.7" width="1.2" height="4.7" fill="#fff"/>
<rect x="370.95" y="391.4" width="4.07" height="6" fill="#fff"/>
<rect x="372.81" y="398.7" width="1.2" height="4.7" fill="#fff"/>
<rect x="376.87" y="391.4" width="4.07" height="6" fill="#fff"/>
<rect x="378.74" y="398.7" width="1.2" height="4.7" fill="#fff"/>
<rect x="382.8" y="391.4" width="4.07" height="6" fill="#fff"/>
<rect x="384.66" y="398.7" width="1.2" height="4.7" fill="#fff"/>
<rect x="388.72" y="391.4" width="4.07" height="6" fill="#fff"/>
<rect x="390.59" y="398.7" width="1.2" height="4.7" fill="#fff"/>
<rect x="394.65" y="391.4" width="4.07" height="6" fill="#fff"/>
<rect x="396.51" y="398.7" width="1.2" height="4.7" fill="#fff"/>
<rect x="400.57" y="391.4" width="4.07" height="6" fill="#fff"/>
<rect x="402.44" y="398.7" width="1.2" height="4.7" fill="#fff"/>
<rect x="406.5" y="391.4" width="4.07" height="6" fill="#fff"/>
<rect x="408.36" y="398.7" width="1.2" height="4.7" fill="#fff"/>
<rect x="412.42" y="391.4" width="4.07" height="6" fill="#fff"/>
<rect x="414.29" y="398.7" width="1.2" height="4.7" fill="#fff"/>
<rect x="418.35" y="391.4" width="4.07" height="6" fill="#fff"/>
<rect x="420.21" y="398.7" width="1.2" height="4.7" fill="#fff"/>
<rect x="424.27" y="391.4" width="4.07" height="6" fill="#fff"/>
<rect x="426.14" y="398.7" width="1.2" height="4.7" fill="#fff"/>
<rect x="430.2" y="391.4" width="4.07" height="6" fill="#fff"/>
<rect x="432.06" y="398.7" width="1.2" height="4.7" fill="#fff"/>
<rect x="436.12" y="391.4" width="4.07" height="6" fill="#fff"/>
<rect x="437.99" y="398.7" width="1.2" height="4.7" fill="#fff"/>
<rect x="442.05" y="391.4" width="4.07" height="6" fill="#fff"/>
<rect x="443.91" y="398.7" width="1.2" height="4.7" fill="#fff"/>
<rect x="447.97" y="391.4" width="4.07" height="6" fill="#fff"/>
<rect x="449.84" y="398.7" width="1.2" height="4.7" fill="#fff"/>
<rect x="453.9" y="391.4" width="4.07" height="6" fill="#fff"/>
<rect x="455.76" y="398.7" width="1.2" height="4.7" fill="#fff"/>
<rect x="459.82" y="391.4" width="4.07" height="6" fill="#fff"/>
<rect x="461.69" y="398.7" width="1.2" height="4.7" fill="#fff"/>
<rect x="465.75" y="391.4" width="4.07" height="6" fill="#fff"/>
<rect x="467.61" y="398.7" width="1.2" height="4.7" fill="#fff"/>
<rect x="471.67" y="391.4" width="4.07" height="6" fill="#fff"/>
<rect x="473.54" y="398.7" width="1.2" height="4.7" fill="#fff"/>
<rect x="477.6" y="391.4" width="4.07" height="6" fill="#fff"/>
<rect x="479.46" y="398.7" width="1.2" height="4.7" fill="#fff"/>
<rect x="483.52" y="391.4" width="4.07" height="6" fill="#fff"/>
<rect x="485.39" y="398.7" width="1.2" height="4.7" fill="#fff"/>
<rect x="489.45" y="391.4" width="4.07" height="6" fill="#fff"/>
<rect x="491.31" y="398.7" width="1.2" height="4.7" fill="#fff"/>
<rect x="495.38" y="391.4" width="4.07" height="6" fill="#fff"/>
<rect x="497.24" y="398.7" width="1.2" height="4.7" fill="#fff"/>
<rect x="501.3" y="391.4" width="4.07" height="6" fill="#fff"/>
<rect x="503.16" y="398.7" width="1.2" height="4.7" fill="#fff"/>
<rect x="507.22" y="391.4" width="4.07" height="6" fill="#fff"/>
<rect x="509.09" y="398.7" width="1.2" height="4.7" fill="#fff"/>
<rect x="513.15" y="391.4" width="4.07" height="6" fill="#fff"/>
<rect x="515.01" y="398.7" width="1.2" height="4.7" fill="#fff"/>
<rect x="519.07" y="391.4" width="4.07" height="6" fill="#fff"/>
<rect x="520.94" y="398.7" width="1.2" height="4.7" fill="#fff"/>
<rect x="525" y="391.4" width="4.07" height="6" fill="#fff"/>
<rect x="526.86" y="398.7" width="1.2" height="4.7" fill="#fff"/>
<rect x="330.2" y="407" width="226.8" height="20.1" fill="#000"/>
<rect x="331.2" y="408" width="224.8" height="17.9" fill="#fff"/>
<rect x="536.1" y="409.8" width="10.3" height="1" fill="#000"/>
<rect x="536.1" y="409.8" width="1" height="9.4" fill="#000"/>
<rect x="536.1" y="418.2" width="3.1" height="1" fill="#000"/>
<rect x="538.2" y="418.2" width="1" height="6.1" fill="#000"/>
<rect x="538.2" y="423.3" width="8.2" height="1" fill="#000"/>
<rect x="538.4" y="416.6" width="5.4" height="1" fill="#000"/>
<rect x="542.8" y="416.6" width="1" height="4.2" fill="#000"/>
<rect x="542.8" y="419.8" width="3.6" height="1" fill="#000"/>
<rect x="546" y="409" width="1.8" height="17.5" fill="#000"/>
<rect x="548.7" y="407" width="1" height="19.5" fill="#000"/>
<rect x="549.7" y="410.6" width="7.3" height="1" fill="#000"/>
<rect x="549.7" y="417.3" width="7.3" height="1" fill="#000"/>
<g transform="translate(887.2 0) scale(-1 1)">
<rect x="536.1" y="409.8" width="10.3" height="1" fill="#000"/>
<rect x="536.1" y="409.8" width="1" height="9.4" fill="#000"/>
<rect x="536.1" y="418.2" width="3.1" height="1" fill="#000"/>
<rect x="538.2" y="418.2" width="1" height="6.1" fill="#000"/>
<rect x="538.2" y="423.3" width="8.2" height="1" fill="#000"/>
<rect x="538.4" y="416.6" width="5.4" height="1" fill="#000"/>
<rect x="542.8" y="416.6" width="1" height="4.2" fill="#000"/>
<rect x="542.8" y="419.8" width="3.6" height="1" fill="#000"/>
<rect x="546" y="409" width="1.8" height="17.5" fill="#000"/>
<rect x="548.7" y="407" width="1" height="19.5" fill="#000"/>
<rect x="549.7" y="410.6" width="7.3" height="1" fill="#000"/>
<rect x="549.7" y="417.3" width="7.3" height="1" fill="#000"/>
</g>
<rect x="356.2" y="409" width="175.8" height="14.7" fill="#000"/>
<rect x="357.3" y="410.6" width="0.8" height="6.1" fill="#fff"/>
<rect x="359.1" y="410.7" width="4.07" height="6" fill="#fff"/>
<rect x="360.96" y="418" width="1.2" height="4.7" fill="#fff"/>
<rect x="365.02" y="410.7" width="4.07" height="6" fill="#fff"/>
<rect x="366.89" y="418" width="1.2" height="4.7" fill="#fff"/>
<rect x="370.95" y="410.7" width="4.07" height="6" fill="#fff"/>
<rect x="372.81" y="418" width="1.2" height="4.7" fill="#fff"/>
<rect x="376.87" y="410.7" width="4.07" height="6" fill="#fff"/>
<rect x="378.74" y="418" width="1.2" height="4.7" fill="#fff"/>
<rect x="382.8" y="410.7" width="4.07" height="6" fill="#fff"/>
<rect x="384.66" y="418" width="1.2" height="4.7" fill="#fff"/>
<rect x="388.72" y="410.7" width="4.07" height="6" fill="#fff"/>
<rect x="390.59" y="418" width="1.2" height="4.7" fill="#fff"/>
<rect x="394.65" y="410.7" width="4.07" height="6" fill="#fff"/>
<rect x="396.51" y="418" width="1.2" height="4.7" fill="#fff"/>
<rect x="400.57" y="410.7" width="4.07" height="6" fill="#fff"/>
<rect x="402.44" y="418" width="1.2" height="4.7" fill="#fff"/>
<rect x="406.5" y="410.7" width="4.07" height="6" fill="#fff"/>
<rect x="408.36" y="418" width="1.2" height="4.7" fill="#fff"/>
<rect x="412.42" y="410.7" width="4.07" height="6" fill="#fff"/>
<rect x="414.29" y="418" width="1.2" height="4.7" fill="#fff"/>
<rect x="418.35" y="410.7" width="4.07" height="6" fill="#fff"/>
<rect x="420.21" y="418" width="1.2" height="4.7" fill="#fff"/>
<rect x="424.27" y="410.7" width="4.07" height="6" fill="#fff"/>
<rect x="426.14" y="418" width="1.2" height="4.7" fill="#fff"/>
<rect x="430.2" y="410.7" width="4.07" height="6" fill="#fff"/>
<rect x="432.06" y="418" width="1.2" height="4.7" fill="#fff"/>
<rect x="436.12" y="410.7" width="4.07" height="6" fill="#fff"/>
<rect x="437.99" y="418" width="1.2" height="4.7" fill="#fff"/>
<rect x="442.05" y="410.7" width="4.07" height="6" fill="#fff"/>
<rect x="443.91" y="418" width="1.2" height="4.7" fill="#fff"/>
<rect x="447.97" y="410.7" width="4.07" height="6" fill="#fff"/>
<rect x="449.84" y="418" width="1.2" height="4.7" fill="#fff"/>
<rect x="453.9" y="410.7" width="4.07" height="6" fill="#fff"/>
<rect x="455.76" y="418" width="1.2" height="4.7" fill="#fff"/>
<rect x="459.82" y="410.7" width="4.07" height="6" fill="#fff"/>
<rect x="461.69" y="418" width="1.2" height="4.7" fill="#fff"/>
<rect x="465.75" y="410.7" width="4.07" height="6" fill="#fff"/>
<rect x="467.61" y="418" width="1.2" height="4.7" fill="#fff"/>
<rect x="471.67" y="410.7" width="4.07" height="6" fill="#fff"/>
<rect x="473.54" y="418" width="1.2" height="4.7" fill="#fff"/>
<rect x="477.6" y="410.7" width="4.07" height="6" fill="#fff"/>
<rect x="479.46" y="418" width="1.2" height="4.7" fill="#fff"/>
<rect x="483.52" y="410.7" width="4.07" height="6" fill="#fff"/>
<rect x="485.39" y="418" width="1.2" height="4.7" fill="#fff"/>
<rect x="489.45" y="410.7" width="4.07" height="6" fill="#fff"/>
<rect x="491.31" y="418" width="1.2" height="4.7" fill="#fff"/>
<rect x="495.38" y="410.7" width="4.07" height="6" fill="#fff"/>
<rect x="497.24" y="418" width="1.2" height="4.7" fill="#fff"/>
<rect x="501.3" y="410.7" width="4.07" height="6" fill="#fff"/>
<rect x="503.16" y="418" width="1.2" height="4.7" fill="#fff"/>
<rect x="507.22" y="410.7" width="4.07" height="6" fill="#fff"/>
<rect x="509.09" y="418" width="1.2" height="4.7" fill="#fff"/>
<rect x="513.15" y="410.7" width="4.07" height="6" fill="#fff"/>
<rect x="515.01" y="418" width="1.2" height="4.7" fill="#fff"/>
<rect x="519.07" y="410.7" width="4.07" height="6" fill="#fff"/>
<rect x="520.94" y="418" width="1.2" height="4.7" fill="#fff"/>
<rect x="525" y="410.7" width="4.07" height="6" fill="#fff"/>
<rect x="526.86" y="418" width="1.2" height="4.7" fill="#fff"/>
<rect x="330.2" y="426.5" width="226.8" height="18.6" fill="#000"/>
<rect x="331.2" y="427.5" width="224.8" height="16.4" fill="#fff"/>
<rect x="536.1" y="429.3" width="10.3" height="1" fill="#000"/>
<rect x="536.1" y="429.3" width="1" height="9.4" fill="#000"/>
<rect x="536.1" y="437.7" width="3.1" height="1" fill="#000"/>
<rect x="538.2" y="437.7" width="1" height="6.1" fill="#000"/>
<rect x="538.2" y="442.8" width="8.2" height="1" fill="#000"/>
<rect x="538.4" y="436.1" width="5.4" height="1" fill="#000"/>
<rect x="542.8" y="436.1" width="1" height="4.2" fill="#000"/>
<rect x="542.8" y="439.3" width="3.6" height="1" fill="#000"/>
<rect x="546" y="428.5" width="1.8" height="16" fill="#000"/>
<rect x="548.7" y="426.5" width="1" height="18" fill="#000"/>
<rect x="549.7" y="430.1" width="7.3" height="1" fill="#000"/>
<rect x="549.7" y="436.8" width="7.3" height="1" fill="#000"/>
<g transform="translate(887.2 0) scale(-1 1)">
<rect x="536.1" y="429.3" width="10.3" height="1" fill="#000"/>
<rect x="536.1" y="429.3" width="1" height="9.4" fill="#000"/>
<rect x="536.1" y="437.7" width="3.1" height="1" fill="#000"/>
<rect x="538.2" y="437.7" width="1" height="6.1" fill="#000"/>
<rect x="538.2" y="442.8" width="8.2" height="1" fill="#000"/>
<rect x="538.4" y="436.1" width="5.4" height="1" fill="#000"/>
<rect x="542.8" y="436.1" width="1" height="4.2" fill="#000"/>
<rect x="542.8" y="439.3" width="3.6" height="1" fill="#000"/>
<rect x="546" y="428.5" width="1.8" height="16" fill="#000"/>
<rect x="548.7" y="426.5" width="1" height="18" fill="#000"/>
<rect x="549.7" y="430.1" width="7.3" height="1" fill="#000"/>
<rect x="549.7" y="436.8" width="7.3" height="1" fill="#000"/>
</g>
<rect x="356.2" y="428.5" width="175.8" height="14.7" fill="#000"/>
<rect x="357.3" y="430.1" width="0.8" height="6.1" fill="#fff"/>
<rect x="359.1" y="430.2" width="4.07" height="6" fill="#fff"/>
<rect x="360.96" y="437.5" width="1.2" height="4.7" fill="#fff"/>
<rect x="365.02" y="430.2" width="4.07" height="6" fill="#fff"/>
<rect x="366.89" y="437.5" width="1.2" height="4.7" fill="#fff"/>
<rect x="370.95" y="430.2" width="4.07" height="6" fill="#fff"/>
<rect x="372.81" y="437.5" width="1.2" height="4.7" fill="#fff"/>
<rect x="376.87" y="430.2" width="4.07" height="6" fill="#fff"/>
<rect x="378.74" y="437.5" width="1.2" height="4.7" fill="#fff"/>
<rect x="382.8" y="430.2" width="4.07" height="6" fill="#fff"/>
<rect x="384.66" y="437.5" width="1.2" height="4.7" fill="#fff"/>
<rect x="388.72" y="430.2" width="4.07" height="6" fill="#fff"/>
<rect x="390.59" y="437.5" width="1.2" height="4.7" fill="#fff"/>
<rect x="394.65" y="430.2" width="4.07" height="6" fill="#fff"/>
<rect x="396.51" y="437.5" width="1.2" height="4.7" fill="#fff"/>
<rect x="400.57" y="430.2" width="4.07" height="6" fill="#fff"/>
<rect x="402.44" y="437.5" width="1.2" height="4.7" fill="#fff"/>
<rect x="406.5" y="430.2" width="4.07" height="6" fill="#fff"/>
<rect x="408.36" y="437.5" width="1.2" height="4.7" fill="#fff"/>
<rect x="412.42" y="430.2" width="4.07" height="6" fill="#fff"/>
<rect x="414.29" y="437.5" width="1.2" height="4.7" fill="#fff"/>
<rect x="418.35" y="430.2" width="4.07" height="6" fill="#fff"/>
<rect x="420.21" y="437.5" width="1.2" height="4.7" fill="#fff"/>
<rect x="424.27" y="430.2" width="4.07" height="6" fill="#fff"/>
<rect x="426.14" y="437.5" width="1.2" height="4.7" fill="#fff"/>
<rect x="430.2" y="430.2" width="4.07" height="6" fill="#fff"/>
<rect x="432.06" y="437.5" width="1.2" height="4.7" fill="#fff"/>
<rect x="436.12" y="430.2" width="4.07" height="6" fill="#fff"/>
<rect x="437.99" y="437.5" width="1.2" height="4.7" fill="#fff"/>
<rect x="442.05" y="430.2" width="4.07" height="6" fill="#fff"/>
<rect x="443.91" y="437.5" width="1.2" height="4.7" fill="#fff"/>
<rect x="447.97" y="430.2" width="4.07" height="6" fill="#fff"/>
<rect x="449.84" y="437.5" width="1.2" height="4.7" fill="#fff"/>
<rect x="453.9" y="430.2" width="4.07" height="6" fill="#fff"/>
<rect x="455.76" y="437.5" width="1.2" height="4.7" fill="#fff"/>
<rect x="459.82" y="430.2" width="4.07" height="6" fill="#fff"/>
<rect x="461.69" y="437.5" width="1.2" height="4.7" fill="#fff"/>
<rect x="465.75" y="430.2" width="4.07" height="6" fill="#fff"/>
<rect x="467.61" y="437.5" width="1.2" height="4.7" fill="#fff"/>
<rect x="471.67" y="430.2" width="4.07" height="6" fill="#fff"/>
<rect x="473.54" y="437.5" width="1.2" height="4.7" fill="#fff"/>
<rect x="477.6" y="430.2" width="4.07" height="6" fill="#fff"/>
<rect x="479.46" y="437.5" width="1.2" height="4.7" fill="#fff"/>
<rect x="483.52" y="430.2" width="4.07" height="6" fill="#fff"/>
<rect x="485.39" y="437.5" width="1.2" height="4.7" fill="#fff"/>
<rect x="489.45" y="430.2" width="4.07" height="6" fill="#fff"/>
<rect x="491.31" y="437.5" width="1.2" height="4.7" fill="#fff"/>
<rect x="495.38" y="430.2" width="4.07" height="6" fill="#fff"/>
<rect x="497.24" y="437.5" width="1.2" height="4.7" fill="#fff"/>
<rect x="501.3" y="430.2" width="4.07" height="6" fill="#fff"/>
<rect x="503.16" y="437.5" width="1.2" height="4.7" fill="#fff"/>
<rect x="507.22" y="430.2" width="4.07" height="6" fill="#fff"/>
<rect x="509.09" y="437.5" width="1.2" height="4.7" fill="#fff"/>
<rect x="513.15" y="430.2" width="4.07" height="6" fill="#fff"/>
<rect x="515.01" y="437.5" width="1.2" height="4.7" fill="#fff"/>
<rect x="519.07" y="430.2" width="4.07" height="6" fill="#fff"/>
<rect x="520.94" y="437.5" width="1.2" height="4.7" fill="#fff"/>
<rect x="525" y="430.2" width="4.07" height="6" fill="#fff"/>
<rect x="526.86" y="437.5" width="1.2" height="4.7" fill="#fff"/>
<rect x="300.2" y="450.2" width="277.8" height="15.6" fill="#000"/>
<rect x="301.2" y="451.2" width="275.8" height="13.6" fill="#fff"/>
<line x1="300.2" y1="453.6" x2="308.4" y2="453.6" stroke="#000" stroke-width="1" stroke-linecap="butt"/>
<line x1="300.2" y1="459.8" x2="308.4" y2="459.8" stroke="#000" stroke-width="1" stroke-linecap="butt"/>
<line x1="569.8" y1="453.6" x2="578" y2="453.6" stroke="#000" stroke-width="1" stroke-linecap="butt"/>
<line x1="569.8" y1="459.8" x2="578" y2="459.8" stroke="#000" stroke-width="1" stroke-linecap="butt"/>
<rect x="308.4" y="451.2" width="3.2" height="14.6" fill="#000"/>
<rect x="566.6" y="451.2" width="3.2" height="14.6" fill="#000"/>
<rect x="311.6" y="452.8" width="10.4" height="11.4" fill="#000"/>
<rect x="313" y="454" width="7.8" height="9" fill="#fff"/>
<polygon points="313,463 313,460.2 315.2,460.2 315.2,458 320.8,458 320.8,459.2 316.4,459.2 316.4,461.4 314.2,461.4 314.2,463" fill="#000"/>
<rect x="318.6" y="459.2" width="1.2" height="3.8" fill="#000"/>
<rect x="556.2" y="452.8" width="10.4" height="11.4" fill="#000"/>
<rect x="557.4" y="454" width="7.8" height="9" fill="#fff"/>
<polygon points="565.2,463 565.2,460.2 563,460.2 563,458 557.4,458 557.4,459.2 561.8,459.2 561.8,461.4 564,461.4 564,463" fill="#000"/>
<rect x="558.4" y="459.2" width="1.2" height="3.8" fill="#000"/>
<rect x="323.2" y="452.2" width="232.2" height="11.8" fill="#000"/>
<rect x="324.6" y="453.8" width="1.1" height="4.2" fill="#fff"/>
<rect x="327.2" y="453.8" width="1.1" height="4.2" fill="#fff"/>
<rect x="329.8" y="453.8" width="1.1" height="4.2" fill="#fff"/>
<rect x="332.4" y="453.8" width="1.1" height="4.2" fill="#fff"/>
<rect x="335" y="453.8" width="1.1" height="4.2" fill="#fff"/>
<rect x="337.6" y="453.8" width="1.1" height="4.2" fill="#fff"/>
<rect x="340.2" y="453.8" width="1.1" height="4.2" fill="#fff"/>
<rect x="342.8" y="453.8" width="1.1" height="4.2" fill="#fff"/>
<rect x="345.4" y="453.8" width="1.1" height="4.2" fill="#fff"/>
<rect x="348" y="453.8" width="1.1" height="4.2" fill="#fff"/>
<rect x="350.6" y="453.8" width="1.1" height="4.2" fill="#fff"/>
<rect x="353.2" y="453.8" width="1.1" height="4.2" fill="#fff"/>
<rect x="355.8" y="453.8" width="1.1" height="4.2" fill="#fff"/>
<rect x="358.4" y="453.8" width="1.1" height="4.2" fill="#fff"/>
<rect x="361" y="453.8" width="1.1" height="4.2" fill="#fff"/>
<rect x="363.6" y="453.8" width="1.1" height="4.2" fill="#fff"/>
<rect x="366.2" y="453.8" width="1.1" height="4.2" fill="#fff"/>
<rect x="368.8" y="453.8" width="1.1" height="4.2" fill="#fff"/>
<rect x="371.4" y="453.8" width="1.1" height="4.2" fill="#fff"/>
<rect x="374" y="453.8" width="1.1" height="4.2" fill="#fff"/>
<rect x="376.6" y="453.8" width="1.1" height="4.2" fill="#fff"/>
<rect x="379.2" y="453.8" width="1.1" height="4.2" fill="#fff"/>
<rect x="381.8" y="453.8" width="1.1" height="4.2" fill="#fff"/>
<rect x="384.4" y="453.8" width="1.1" height="4.2" fill="#fff"/>
<rect x="387" y="453.8" width="1.1" height="4.2" fill="#fff"/>
<rect x="389.6" y="453.8" width="1.1" height="4.2" fill="#fff"/>
<rect x="392.2" y="453.8" width="1.1" height="4.2" fill="#fff"/>
<rect x="394.8" y="453.8" width="1.1" height="4.2" fill="#fff"/>
<rect x="397.4" y="453.8" width="1.1" height="4.2" fill="#fff"/>
<rect x="400" y="453.8" width="1.1" height="4.2" fill="#fff"/>
<rect x="402.6" y="453.8" width="1.1" height="4.2" fill="#fff"/>
<rect x="405.2" y="453.8" width="1.1" height="4.2" fill="#fff"/>
<rect x="407.8" y="453.8" width="1.1" height="4.2" fill="#fff"/>
<rect x="410.4" y="453.8" width="1.1" height="4.2" fill="#fff"/>
<rect x="413" y="453.8" width="1.1" height="4.2" fill="#fff"/>
<rect x="415.6" y="453.8" width="1.1" height="4.2" fill="#fff"/>
<rect x="418.2" y="453.8" width="1.1" height="4.2" fill="#fff"/>
<rect x="420.8" y="453.8" width="1.1" height="4.2" fill="#fff"/>
<rect x="423.4" y="453.8" width="1.1" height="4.2" fill="#fff"/>
<rect x="426" y="453.8" width="1.1" height="4.2" fill="#fff"/>
<rect x="428.6" y="453.8" width="1.1" height="4.2" fill="#fff"/>
<rect x="431.2" y="453.8" width="1.1" height="4.2" fill="#fff"/>
<rect x="433.8" y="453.8" width="1.1" height="4.2" fill="#fff"/>
<rect x="436.4" y="453.8" width="1.1" height="4.2" fill="#fff"/>
<rect x="439" y="453.8" width="1.1" height="4.2" fill="#fff"/>
<rect x="441.6" y="453.8" width="1.1" height="4.2" fill="#fff"/>
<rect x="444.2" y="453.8" width="1.1" height="4.2" fill="#fff"/>
<rect x="446.8" y="453.8" width="1.1" height="4.2" fill="#fff"/>
<rect x="449.4" y="453.8" width="1.1" height="4.2" fill="#fff"/>
<rect x="452" y="453.8" width="1.1" height="4.2" fill="#fff"/>
<rect x="454.6" y="453.8" width="1.1" height="4.2" fill="#fff"/>
<rect x="457.2" y="453.8" width="1.1" height="4.2" fill="#fff"/>
<rect x="459.8" y="453.8" width="1.1" height="4.2" fill="#fff"/>
<rect x="462.4" y="453.8" width="1.1" height="4.2" fill="#fff"/>
<rect x="465" y="453.8" width="1.1" height="4.2" fill="#fff"/>
<rect x="467.6" y="453.8" width="1.1" height="4.2" fill="#fff"/>
<rect x="470.2" y="453.8" width="1.1" height="4.2" fill="#fff"/>
<rect x="472.8" y="453.8" width="1.1" height="4.2" fill="#fff"/>
<rect x="475.4" y="453.8" width="1.1" height="4.2" fill="#fff"/>
<rect x="478" y="453.8" width="1.1" height="4.2" fill="#fff"/>
<rect x="480.6" y="453.8" width="1.1" height="4.2" fill="#fff"/>
<rect x="483.2" y="453.8" width="1.1" height="4.2" fill="#fff"/>
<rect x="485.8" y="453.8" width="1.1" height="4.2" fill="#fff"/>
<rect x="488.4" y="453.8" width="1.1" height="4.2" fill="#fff"/>
<rect x="491" y="453.8" width="1.1" height="4.2" fill="#fff"/>
<rect x="493.6" y="453.8" width="1.1" height="4.2" fill="#fff"/>
<rect x="496.2" y="453.8" width="1.1" height="4.2" fill="#fff"/>
<rect x="498.8" y="453.8" width="1.1" height="4.2" fill="#fff"/>
<rect x="501.4" y="453.8" width="1.1" height="4.2" fill="#fff"/>
<rect x="504" y="453.8" width="1.1" height="4.2" fill="#fff"/>
<rect x="506.6" y="453.8" width="1.1" height="4.2" fill="#fff"/>
<rect x="509.2" y="453.8" width="1.1" height="4.2" fill="#fff"/>
<rect x="511.8" y="453.8" width="1.1" height="4.2" fill="#fff"/>
<rect x="514.4" y="453.8" width="1.1" height="4.2" fill="#fff"/>
<rect x="517" y="453.8" width="1.1" height="4.2" fill="#fff"/>
<rect x="519.6" y="453.8" width="1.1" height="4.2" fill="#fff"/>
<rect x="522.2" y="453.8" width="1.1" height="4.2" fill="#fff"/>
<rect x="524.8" y="453.8" width="1.1" height="4.2" fill="#fff"/>
<rect x="527.4" y="453.8" width="1.1" height="4.2" fill="#fff"/>
<rect x="530" y="453.8" width="1.1" height="4.2" fill="#fff"/>
<rect x="532.6" y="453.8" width="1.1" height="4.2" fill="#fff"/>
<rect x="535.2" y="453.8" width="1.1" height="4.2" fill="#fff"/>
<rect x="537.8" y="453.8" width="1.1" height="4.2" fill="#fff"/>
<rect x="540.4" y="453.8" width="1.1" height="4.2" fill="#fff"/>
<rect x="543" y="453.8" width="1.1" height="4.2" fill="#fff"/>
<rect x="545.6" y="453.8" width="1.1" height="4.2" fill="#fff"/>
<rect x="548.2" y="453.8" width="1.1" height="4.2" fill="#fff"/>
<rect x="550.8" y="453.8" width="1.1" height="4.2" fill="#fff"/>
<rect x="300.2" y="468.1" width="277.8" height="15.8" fill="#000"/>
<rect x="301.2" y="469.1" width="275.8" height="13.8" fill="#fff"/>
<line x1="300.2" y1="471.5" x2="308.4" y2="471.5" stroke="#000" stroke-width="1" stroke-linecap="butt"/>
<line x1="300.2" y1="477.7" x2="308.4" y2="477.7" stroke="#000" stroke-width="1" stroke-linecap="butt"/>
<line x1="569.8" y1="471.5" x2="578" y2="471.5" stroke="#000" stroke-width="1" stroke-linecap="butt"/>
<line x1="569.8" y1="477.7" x2="578" y2="477.7" stroke="#000" stroke-width="1" stroke-linecap="butt"/>
<rect x="308.4" y="469.1" width="3.2" height="14.8" fill="#000"/>
<rect x="566.6" y="469.1" width="3.2" height="14.8" fill="#000"/>
<rect x="311.6" y="470.7" width="10.4" height="11.6" fill="#000"/>
<rect x="313" y="471.9" width="7.8" height="9.2" fill="#fff"/>
<polygon points="313,481.1 313,478.3 315.2,478.3 315.2,475.9 320.8,475.9 320.8,477.1 316.4,477.1 316.4,479.5 314.2,479.5 314.2,481.1" fill="#000"/>
<rect x="318.6" y="477.1" width="1.2" height="4" fill="#000"/>
<rect x="556.2" y="470.7" width="10.4" height="11.6" fill="#000"/>
<rect x="557.4" y="471.9" width="7.8" height="9.2" fill="#fff"/>
<polygon points="565.2,481.1 565.2,478.3 563,478.3 563,475.9 557.4,475.9 557.4,477.1 561.8,477.1 561.8,479.5 564,479.5 564,481.1" fill="#000"/>
<rect x="558.4" y="477.1" width="1.2" height="4" fill="#000"/>
<rect x="323.2" y="470.1" width="232.2" height="12" fill="#000"/>
<rect x="324.6" y="471.7" width="1.1" height="4.2" fill="#fff"/>
<rect x="327.2" y="471.7" width="1.1" height="4.2" fill="#fff"/>
<rect x="329.8" y="471.7" width="1.1" height="4.2" fill="#fff"/>
<rect x="332.4" y="471.7" width="1.1" height="4.2" fill="#fff"/>
<rect x="335" y="471.7" width="1.1" height="4.2" fill="#fff"/>
<rect x="337.6" y="471.7" width="1.1" height="4.2" fill="#fff"/>
<rect x="340.2" y="471.7" width="1.1" height="4.2" fill="#fff"/>
<rect x="342.8" y="471.7" width="1.1" height="4.2" fill="#fff"/>
<rect x="345.4" y="471.7" width="1.1" height="4.2" fill="#fff"/>
<rect x="348" y="471.7" width="1.1" height="4.2" fill="#fff"/>
<rect x="350.6" y="471.7" width="1.1" height="4.2" fill="#fff"/>
<rect x="353.2" y="471.7" width="1.1" height="4.2" fill="#fff"/>
<rect x="355.8" y="471.7" width="1.1" height="4.2" fill="#fff"/>
<rect x="358.4" y="471.7" width="1.1" height="4.2" fill="#fff"/>
<rect x="361" y="471.7" width="1.1" height="4.2" fill="#fff"/>
<rect x="363.6" y="471.7" width="1.1" height="4.2" fill="#fff"/>
<rect x="366.2" y="471.7" width="1.1" height="4.2" fill="#fff"/>
<rect x="368.8" y="471.7" width="1.1" height="4.2" fill="#fff"/>
<rect x="371.4" y="471.7" width="1.1" height="4.2" fill="#fff"/>
<rect x="374" y="471.7" width="1.1" height="4.2" fill="#fff"/>
<rect x="376.6" y="471.7" width="1.1" height="4.2" fill="#fff"/>
<rect x="379.2" y="471.7" width="1.1" height="4.2" fill="#fff"/>
<rect x="381.8" y="471.7" width="1.1" height="4.2" fill="#fff"/>
<rect x="384.4" y="471.7" width="1.1" height="4.2" fill="#fff"/>
<rect x="387" y="471.7" width="1.1" height="4.2" fill="#fff"/>
<rect x="389.6" y="471.7" width="1.1" height="4.2" fill="#fff"/>
<rect x="392.2" y="471.7" width="1.1" height="4.2" fill="#fff"/>
<rect x="394.8" y="471.7" width="1.1" height="4.2" fill="#fff"/>
<rect x="397.4" y="471.7" width="1.1" height="4.2" fill="#fff"/>
<rect x="400" y="471.7" width="1.1" height="4.2" fill="#fff"/>
<rect x="402.6" y="471.7" width="1.1" height="4.2" fill="#fff"/>
<rect x="405.2" y="471.7" width="1.1" height="4.2" fill="#fff"/>
<rect x="407.8" y="471.7" width="1.1" height="4.2" fill="#fff"/>
<rect x="410.4" y="471.7" width="1.1" height="4.2" fill="#fff"/>
<rect x="413" y="471.7" width="1.1" height="4.2" fill="#fff"/>
<rect x="415.6" y="471.7" width="1.1" height="4.2" fill="#fff"/>
<rect x="418.2" y="471.7" width="1.1" height="4.2" fill="#fff"/>
<rect x="420.8" y="471.7" width="1.1" height="4.2" fill="#fff"/>
<rect x="423.4" y="471.7" width="1.1" height="4.2" fill="#fff"/>
<rect x="426" y="471.7" width="1.1" height="4.2" fill="#fff"/>
<rect x="428.6" y="471.7" width="1.1" height="4.2" fill="#fff"/>
<rect x="431.2" y="471.7" width="1.1" height="4.2" fill="#fff"/>
<rect x="433.8" y="471.7" width="1.1" height="4.2" fill="#fff"/>
<rect x="436.4" y="471.7" width="1.1" height="4.2" fill="#fff"/>
<rect x="439" y="471.7" width="1.1" height="4.2" fill="#fff"/>
<rect x="441.6" y="471.7" width="1.1" height="4.2" fill="#fff"/>
<rect x="444.2" y="471.7" width="1.1" height="4.2" fill="#fff"/>
<rect x="446.8" y="471.7" width="1.1" height="4.2" fill="#fff"/>
<rect x="449.4" y="471.7" width="1.1" height="4.2" fill="#fff"/>
<rect x="452" y="471.7" width="1.1" height="4.2" fill="#fff"/>
<rect x="454.6" y="471.7" width="1.1" height="4.2" fill="#fff"/>
<rect x="457.2" y="471.7" width="1.1" height="4.2" fill="#fff"/>
<rect x="459.8" y="471.7" width="1.1" height="4.2" fill="#fff"/>
<rect x="462.4" y="471.7" width="1.1" height="4.2" fill="#fff"/>
<rect x="465" y="471.7" width="1.1" height="4.2" fill="#fff"/>
<rect x="467.6" y="471.7" width="1.1" height="4.2" fill="#fff"/>
<rect x="470.2" y="471.7" width="1.1" height="4.2" fill="#fff"/>
<rect x="472.8" y="471.7" width="1.1" height="4.2" fill="#fff"/>
<rect x="475.4" y="471.7" width="1.1" height="4.2" fill="#fff"/>
<rect x="478" y="471.7" width="1.1" height="4.2" fill="#fff"/>
<rect x="480.6" y="471.7" width="1.1" height="4.2" fill="#fff"/>
<rect x="483.2" y="471.7" width="1.1" height="4.2" fill="#fff"/>
<rect x="485.8" y="471.7" width="1.1" height="4.2" fill="#fff"/>
<rect x="488.4" y="471.7" width="1.1" height="4.2" fill="#fff"/>
<rect x="491" y="471.7" width="1.1" height="4.2" fill="#fff"/>
<rect x="493.6" y="471.7" width="1.1" height="4.2" fill="#fff"/>
<rect x="496.2" y="471.7" width="1.1" height="4.2" fill="#fff"/>
<rect x="498.8" y="471.7" width="1.1" height="4.2" fill="#fff"/>
<rect x="501.4" y="471.7" width="1.1" height="4.2" fill="#fff"/>
<rect x="504" y="471.7" width="1.1" height="4.2" fill="#fff"/>
<rect x="506.6" y="471.7" width="1.1" height="4.2" fill="#fff"/>
<rect x="509.2" y="471.7" width="1.1" height="4.2" fill="#fff"/>
<rect x="511.8" y="471.7" width="1.1" height="4.2" fill="#fff"/>
<rect x="514.4" y="471.7" width="1.1" height="4.2" fill="#fff"/>
<rect x="517" y="471.7" width="1.1" height="4.2" fill="#fff"/>
<rect x="519.6" y="471.7" width="1.1" height="4.2" fill="#fff"/>
<rect x="522.2" y="471.7" width="1.1" height="4.2" fill="#fff"/>
<rect x="524.8" y="471.7" width="1.1" height="4.2" fill="#fff"/>
<rect x="527.4" y="471.7" width="1.1" height="4.2" fill="#fff"/>
<rect x="530" y="471.7" width="1.1" height="4.2" fill="#fff"/>
<rect x="532.6" y="471.7" width="1.1" height="4.2" fill="#fff"/>
<rect x="535.2" y="471.7" width="1.1" height="4.2" fill="#fff"/>
<rect x="537.8" y="471.7" width="1.1" height="4.2" fill="#fff"/>
<rect x="540.4" y="471.7" width="1.1" height="4.2" fill="#fff"/>
<rect x="543" y="471.7" width="1.1" height="4.2" fill="#fff"/>
<rect x="545.6" y="471.7" width="1.1" height="4.2" fill="#fff"/>
<rect x="548.2" y="471.7" width="1.1" height="4.2" fill="#fff"/>
<rect x="550.8" y="471.7" width="1.1" height="4.2" fill="#fff"/>
<rect x="483.2" y="489" width="111.6" height="23.8" fill="#000"/>
<rect x="484.2" y="490" width="109.6" height="21.8" fill="#fff"/>
<rect x="484.2" y="494.4" width="8.3" height="2.6" fill="#000"/>
<rect x="486" y="492.1" width="4.8" height="2.5" fill="#000"/>
<rect x="484.2" y="499" width="7" height="2.6" fill="#000"/>
<rect x="493.45" y="494.4" width="8.3" height="2.6" fill="#000"/>
<rect x="495.25" y="492.1" width="4.8" height="2.5" fill="#000"/>
<rect x="493.45" y="499" width="7" height="2.6" fill="#000"/>
<rect x="502.7" y="494.4" width="8.3" height="2.6" fill="#000"/>
<rect x="504.5" y="492.1" width="4.8" height="2.5" fill="#000"/>
<rect x="502.7" y="499" width="7" height="2.6" fill="#000"/>
<rect x="511.95" y="494.4" width="8.3" height="2.6" fill="#000"/>
<rect x="513.75" y="492.1" width="4.8" height="2.5" fill="#000"/>
<rect x="511.95" y="499" width="7" height="2.6" fill="#000"/>
<rect x="521.2" y="494.4" width="8.3" height="2.6" fill="#000"/>
<rect x="523" y="492.1" width="4.8" height="2.5" fill="#000"/>
<rect x="521.2" y="499" width="7" height="2.6" fill="#000"/>
<rect x="530.45" y="494.4" width="8.3" height="2.6" fill="#000"/>
<rect x="532.25" y="492.1" width="4.8" height="2.5" fill="#000"/>
<rect x="530.45" y="499" width="7" height="2.6" fill="#000"/>
<rect x="539.7" y="494.4" width="8.3" height="2.6" fill="#000"/>
<rect x="541.5" y="492.1" width="4.8" height="2.5" fill="#000"/>
<rect x="539.7" y="499" width="7" height="2.6" fill="#000"/>
<rect x="548.95" y="494.4" width="8.3" height="2.6" fill="#000"/>
<rect x="550.75" y="492.1" width="4.8" height="2.5" fill="#000"/>
<rect x="548.95" y="499" width="7" height="2.6" fill="#000"/>
<rect x="558.2" y="494.4" width="8.3" height="2.6" fill="#000"/>
<rect x="560" y="492.1" width="4.8" height="2.5" fill="#000"/>
<rect x="558.2" y="499" width="7" height="2.6" fill="#000"/>
<rect x="567.45" y="494.4" width="8.3" height="2.6" fill="#000"/>
<rect x="569.25" y="492.1" width="4.8" height="2.5" fill="#000"/>
<rect x="567.45" y="499" width="7" height="2.6" fill="#000"/>
<rect x="576.7" y="494.4" width="8.3" height="2.6" fill="#000"/>
<rect x="578.5" y="492.1" width="4.8" height="2.5" fill="#000"/>
<rect x="576.7" y="499" width="7" height="2.6" fill="#000"/>
<rect x="585.95" y="494.4" width="8.3" height="2.6" fill="#000"/>
<rect x="587.75" y="492.1" width="4.8" height="2.5" fill="#000"/>
<rect x="585.95" y="499" width="7" height="2.6" fill="#000"/>
<rect x="487.9" y="503.2" width="7.3" height="6.8" fill="#000"/>
<rect x="488.9" y="504.2" width="5.3" height="4.8" fill="#fff"/>
<rect x="497.35" y="503.2" width="7.3" height="6.8" fill="#000"/>
<rect x="498.35" y="504.2" width="5.3" height="4.8" fill="#fff"/>
<rect x="506.8" y="503.2" width="7.3" height="6.8" fill="#000"/>
<rect x="507.8" y="504.2" width="5.3" height="4.8" fill="#fff"/>
<rect x="516.25" y="503.2" width="7.3" height="6.8" fill="#000"/>
<rect x="517.25" y="504.2" width="5.3" height="4.8" fill="#fff"/>
<rect x="525.7" y="503.2" width="7.3" height="6.8" fill="#000"/>
<rect x="526.7" y="504.2" width="5.3" height="4.8" fill="#fff"/>
<rect x="535.15" y="503.2" width="7.3" height="6.8" fill="#000"/>
<rect x="536.15" y="504.2" width="5.3" height="4.8" fill="#fff"/>
<rect x="544.6" y="503.2" width="7.3" height="6.8" fill="#000"/>
<rect x="545.6" y="504.2" width="5.3" height="4.8" fill="#fff"/>
<rect x="554.05" y="503.2" width="7.3" height="6.8" fill="#000"/>
<rect x="555.05" y="504.2" width="5.3" height="4.8" fill="#fff"/>
<rect x="563.5" y="503.2" width="7.3" height="6.8" fill="#000"/>
<rect x="564.5" y="504.2" width="5.3" height="4.8" fill="#fff"/>
<rect x="572.95" y="503.2" width="7.3" height="6.8" fill="#000"/>
<rect x="573.95" y="504.2" width="5.3" height="4.8" fill="#fff"/>
<rect x="582.4" y="503.2" width="7.3" height="6.8" fill="#000"/>
<rect x="583.4" y="504.2" width="5.3" height="4.8" fill="#fff"/>
<rect x="483.2" y="504.2" width="2.2" height="5.2" fill="#000"/>
<rect x="484.2" y="505.6" width="1.2" height="2.4" fill="#fff"/>
<rect x="592.6" y="504.2" width="2.2" height="5.2" fill="#000"/>
<rect x="592.6" y="505.6" width="1.2" height="2.4" fill="#fff"/>
<polygon points="619,457.6 643,457.6 643,454 646,454 646,451 650,451 650,501 646,501 646,498 643,498 643,495 619,495" fill="#000"/>
<rect x="616" y="465" width="3" height="24" fill="#000"/>
<rect x="612" y="467" width="5" height="8" fill="#000"/>
<rect x="613" y="468" width="3.4" height="6" fill="#fff"/>
<rect x="612" y="478" width="5" height="8.6" fill="#000"/>
<rect x="613" y="479" width="3.4" height="6.6" fill="#fff"/>
<path d="M615,395.6 L633.2,395.6 L636,397 L637.8,401 L635.6,406.2 L635.6,412.4 L637.8,416 L635.6,420.2 L635.6,427 L637.8,430.7 L636,434.7 L633.2,436.2 L615,436.2 L612.2,434.7 L610.2,430.7 L612.5,427 L612.5,420.2 L610.2,416 L612.5,412.4 L612.5,406.2 L610.2,401 L612.2,397 Z" fill="none" stroke="#000" stroke-width="1.1" stroke-linejoin="round" shape-rendering="geometricPrecision"/>
<rect x="59" y="26" width="14" height="7" fill="#000"/>
<rect x="60" y="27" width="1" height="5" fill="#fff"/>
<rect x="65" y="27" width="1" height="5" fill="#fff"/>
<rect x="71" y="27" width="1" height="5" fill="#fff"/>
<rect x="77" y="26" width="14" height="7" fill="#000"/>
<rect x="78" y="27" width="1" height="5" fill="#fff"/>
<rect x="84" y="27" width="1" height="5" fill="#fff"/>
<rect x="89" y="27" width="1" height="5" fill="#fff"/>
<rect x="97" y="26" width="26" height="7" fill="#000"/>
<rect x="98" y="27" width="24" height="1" fill="#fff"/>
<rect x="98" y="27" width="1" height="4" fill="#fff"/>
<rect x="104" y="27" width="1" height="4" fill="#fff"/>
<rect x="108" y="27" width="1" height="4" fill="#fff"/>
<rect x="113" y="27" width="1" height="4" fill="#fff"/>
<rect x="118" y="27" width="1" height="4" fill="#fff"/>
<rect x="121" y="27" width="1" height="4" fill="#fff"/>
<rect x="98" y="27" width="6" height="5" fill="#fff"/>
<rect x="100" y="28" width="3" height="3" fill="#000"/>
<rect x="101" y="29" width="1" height="1" fill="#fff"/>
<rect x="129" y="26" width="31" height="7" fill="#000"/>
<rect x="130" y="27" width="29" height="1" fill="#fff"/>
<rect x="130" y="27" width="1" height="4" fill="#fff"/>
<rect x="135" y="27" width="1" height="4" fill="#fff"/>
<rect x="141" y="27" width="1" height="4" fill="#fff"/>
<rect x="147" y="27" width="1" height="4" fill="#fff"/>
<rect x="152" y="27" width="1" height="4" fill="#fff"/>
<rect x="158" y="27" width="1" height="4" fill="#fff"/>
<rect x="130" y="27" width="5" height="5" fill="#fff"/>
<rect x="132" y="28" width="2" height="3" fill="#000"/>
<rect x="133" y="29" width="0" height="1" fill="#fff"/>
<rect x="164" y="26" width="14" height="7" fill="#000"/>
<rect x="165" y="27" width="1" height="5" fill="#fff"/>
<rect x="171" y="27" width="1" height="5" fill="#fff"/>
<rect x="176" y="27" width="1" height="5" fill="#fff"/>
<rect x="56" y="91" width="13" height="7" fill="#000"/>
<rect x="57" y="92.6" width="10.6" height="0.9" fill="#fff"/>
<rect x="57" y="93.5" width="1" height="3.5" fill="#fff"/>
<rect x="62" y="93.5" width="1" height="3.5" fill="#fff"/>
<rect x="55" y="185" width="14" height="13" fill="#000"/>
<rect x="56" y="186" width="12" height="11" fill="#fff"/>
<rect x="57" y="187" width="3.8" height="10" fill="#000"/>
<rect x="63.2" y="187" width="3.8" height="10" fill="#000"/>
<rect x="56" y="190.6" width="12" height="1" fill="#000"/>
<rect x="163" y="189" width="19" height="7" fill="#000"/>
<rect x="164" y="190" width="1" height="5" fill="#fff"/>
<rect x="169" y="190" width="2" height="5" fill="#fff"/>
<rect x="175" y="190" width="2" height="5" fill="#fff"/>
<rect x="166" y="191" width="2" height="3" fill="#fff"/>
<rect x="332" y="266" width="20" height="7" fill="#000"/>
<rect x="333" y="267" width="1" height="5" fill="#fff"/>
<rect x="339" y="267" width="1" height="5" fill="#fff"/>
<rect x="344" y="267" width="2" height="5" fill="#fff"/>
<rect x="350" y="267" width="1" height="5" fill="#fff"/>
<rect x="335" y="268" width="3" height="3" fill="#fff"/>
<rect x="161" y="332" width="19" height="7" fill="#000"/>
<rect x="162" y="333" width="12" height="1" fill="#fff"/>
<rect x="162" y="333" width="1" height="4" fill="#fff"/>
<rect x="168" y="333" width="1" height="4" fill="#fff"/>
<rect x="173" y="333" width="1" height="4" fill="#fff"/>
<rect x="162" y="333" width="6" height="5" fill="#fff"/>
<rect x="164" y="334" width="3" height="3" fill="#000"/>
<rect x="165" y="335" width="1" height="1" fill="#fff"/>
<rect x="174" y="338" width="6" height="14" fill="#000"/>
<rect x="175.2" y="339" width="3.8" height="1.2" fill="#fff"/>
<rect x="175.2" y="344.4" width="3.8" height="1.2" fill="#fff"/>
<rect x="175.2" y="349.8" width="3.8" height="1.2" fill="#fff"/>
<rect x="208" y="342" width="7" height="13.8" fill="#000"/>
<rect x="209" y="343.3" width="5" height="1" fill="#fff"/>
<rect x="209" y="348.4" width="5" height="1" fill="#fff"/>
<rect x="209" y="354" width="5" height="1" fill="#fff"/>
<rect x="196" y="365" width="7" height="13.8" fill="#000"/>
<rect x="197.2" y="366.2" width="1" height="11.8" fill="#fff"/>
<rect x="197.2" y="366.2" width="4.8" height="1" fill="#fff"/>
<rect x="197.2" y="371.4" width="4.8" height="1.2" fill="#fff"/>
<rect x="197.2" y="377" width="4.8" height="1" fill="#fff"/>
<rect x="209" y="366" width="14.4" height="6.4" fill="#000"/>
<rect x="209" y="372" width="20" height="7" fill="#000"/>
<rect x="210.2" y="367.2" width="1.1" height="10.6" fill="#fff"/>
<rect x="216.2" y="367.2" width="1.1" height="10.6" fill="#fff"/>
<rect x="221.2" y="367.2" width="1.1" height="10.6" fill="#fff"/>
<rect x="227" y="373.4" width="1" height="4.4" fill="#fff"/>
<rect x="209.8" y="372.2" width="12.2" height="1" fill="#fff"/>
<rect x="212.2" y="374.4" width="2.8" height="2.6" fill="#fff"/>
<rect x="623" y="51.8" width="7" height="14.2" fill="#000"/>
<rect x="624" y="53" width="5" height="1" fill="#fff"/>
<rect x="624" y="59" width="5" height="1" fill="#fff"/>
<rect x="624" y="64" width="5" height="1" fill="#fff"/>
<rect x="561" y="365" width="7" height="14" fill="#000"/>
<rect x="566" y="366" width="1" height="12" fill="#fff"/>
<rect x="562" y="366" width="5" height="1" fill="#fff"/>
<rect x="562" y="371.6" width="5" height="1.2" fill="#fff"/>
<rect x="562" y="377" width="5" height="1" fill="#fff"/>
<rect x="391" y="492" width="7" height="19" fill="#000"/>
<rect x="392" y="493" width="1" height="16.8" fill="#fff"/>
<rect x="392" y="493" width="5" height="0.8" fill="#fff"/>
<rect x="392" y="498.2" width="5" height="1" fill="#fff"/>
<rect x="392" y="503.8" width="5" height="1.2" fill="#fff"/>
<rect x="394" y="495" width="2.2" height="2.2" fill="#fff"/>
<rect x="590" y="300" width="26" height="6" fill="#000"/>
<rect x="591" y="301" width="1" height="4" fill="#fff"/>
<rect x="596" y="301" width="1" height="4" fill="#fff"/>
<rect x="603" y="301" width="1" height="4" fill="#fff"/>
<rect x="609" y="301" width="1" height="4" fill="#fff"/>
<rect x="614" y="301" width="1" height="4" fill="#fff"/>
<rect x="602.4" y="294.2" width="13.6" height="6.2" fill="#000"/>
<rect x="603.5" y="295.3" width="5.3" height="3.9" fill="#fff"/>
<rect x="610" y="295.3" width="4.8" height="3.9" fill="#fff"/>
<rect x="596" y="320" width="19" height="7" fill="#000"/>
<rect x="597" y="321" width="17" height="1" fill="#fff"/>
<rect x="597" y="321" width="1" height="4" fill="#fff"/>
<rect x="603" y="321" width="1" height="4" fill="#fff"/>
<rect x="608" y="321" width="1" height="4" fill="#fff"/>
<rect x="613" y="321" width="1" height="4" fill="#fff"/>
<rect x="597" y="321" width="6" height="5" fill="#fff"/>
<rect x="599" y="322" width="3" height="3" fill="#000"/>
<rect x="600" y="323" width="1" height="1" fill="#fff"/>
<rect x="592" y="334" width="26" height="7" fill="#000"/>
<rect x="594" y="335" width="23" height="1" fill="#fff"/>
<rect x="594" y="335" width="1" height="4" fill="#fff"/>
<rect x="598" y="335" width="1" height="4" fill="#fff"/>
<rect x="604" y="335" width="1" height="4" fill="#fff"/>
<rect x="610" y="335" width="1" height="4" fill="#fff"/>
<rect x="616" y="335" width="1" height="4" fill="#fff"/>
<rect x="594" y="335" width="4" height="5" fill="#fff"/>
<rect x="596" y="336" width="1" height="3" fill="#000"/>
<rect x="597" y="337" width="-1" height="1" fill="#fff"/>
<rect x="276" y="505" width="26" height="7" fill="#000"/>
<rect x="277" y="506" width="1" height="5" fill="#fff"/>
<rect x="282" y="506" width="1" height="5" fill="#fff"/>
<rect x="289" y="506" width="1" height="5" fill="#fff"/>
<rect x="295" y="506" width="1" height="5" fill="#fff"/>
<rect x="300" y="506" width="1" height="5" fill="#fff"/>
<rect x="301" y="505" width="19" height="7" fill="#000"/>
<rect x="302" y="506" width="16" height="1" fill="#fff"/>
<rect x="302" y="506" width="1" height="4" fill="#fff"/>
<rect x="308" y="506" width="1" height="4" fill="#fff"/>
<rect x="313" y="506" width="1" height="4" fill="#fff"/>
<rect x="317" y="506" width="1" height="4" fill="#fff"/>
<rect x="302" y="506" width="6" height="5" fill="#fff"/>
<rect x="304" y="507" width="3" height="3" fill="#000"/>
<rect x="305" y="508" width="1" height="1" fill="#fff"/>
<rect x="95" y="246" width="6.6" height="14" fill="#000"/>
<rect x="101.6" y="244.4" width="5.8" height="18.8" fill="#000"/>
<rect x="107.4" y="244.4" width="6.6" height="25.4" fill="#000"/>
<rect x="96" y="247" width="5.6" height="1" fill="#fff"/>
<rect x="96" y="253.4" width="5.6" height="1" fill="#fff"/>
<rect x="96" y="258.4" width="5.6" height="1" fill="#fff"/>
<rect x="102.4" y="245.4" width="10.6" height="1" fill="#fff"/>
<rect x="102.4" y="250.4" width="10.6" height="1" fill="#fff"/>
<rect x="102.4" y="256" width="10.6" height="1" fill="#fff"/>
<rect x="108.4" y="262.6" width="4.6" height="1" fill="#fff"/>
<rect x="103" y="246.6" width="3.4" height="2.8" fill="#fff"/>
<rect x="104" y="247.4" width="1.4" height="1.2" fill="#000"/>
<rect x="107" y="244.4" width="1.2" height="24.6" fill="#000"/>
<rect x="101" y="246" width="1" height="14" fill="#000"/>
<rect x="164" y="409.4" width="6" height="26" fill="#000"/>
<rect x="170" y="404" width="7" height="36.4" fill="#000"/>
<rect x="175" y="405" width="1" height="34.4" fill="#fff"/>
<rect x="165" y="410" width="10" height="1" fill="#fff"/>
<rect x="165" y="415" width="10" height="2" fill="#fff"/>
<rect x="165" y="421" width="10" height="1" fill="#fff"/>
<rect x="165" y="423" width="10" height="1" fill="#fff"/>
<rect x="165" y="428" width="10" height="1" fill="#fff"/>
<rect x="165" y="434" width="10" height="1" fill="#fff"/>
<rect x="171" y="405" width="4" height="4" fill="#fff"/>
<rect x="172" y="406" width="2" height="2" fill="#000"/>
<rect x="171" y="424" width="4" height="4" fill="#fff"/>
<rect x="172" y="425" width="2" height="2" fill="#000"/>
<rect x="170" y="444.4" width="7" height="25.2" fill="#000"/>
<rect x="171" y="445.4" width="5" height="5.2" fill="#fff"/>
<rect x="172" y="446.4" width="2.4" height="2.6" fill="#000"/>
<rect x="172.8" y="447.2" width="0.8" height="1" fill="#fff"/>
<rect x="175" y="451" width="1" height="17.6" fill="#fff"/>
<rect x="171" y="451" width="4" height="1" fill="#fff"/>
<rect x="171" y="457" width="4" height="1" fill="#fff"/>
<rect x="171" y="462.6" width="4" height="1" fill="#fff"/>
<rect x="171" y="467.6" width="5" height="1" fill="#fff"/>
<rect x="164" y="472.4" width="13" height="18.2" fill="#000"/>
<rect x="165" y="473.4" width="11" height="0.8" fill="#fff"/>
<rect x="175.2" y="473.4" width="0.8" height="16.2" fill="#fff"/>
<rect x="165.4" y="474.4" width="4.2" height="4.2" fill="#fff"/>
<rect x="166.4" y="475.4" width="2.2" height="2.2" fill="#000"/>
<rect x="170" y="474" width="1" height="15.6" fill="#fff"/>
<rect x="165" y="479" width="11" height="1" fill="#fff"/>
<rect x="165" y="484.6" width="11" height="1" fill="#fff"/>
<g shape-rendering="geometricPrecision">
<rect x="49.6" y="3" width="40.8" height="17" fill="#000" rx="3.2"/>
<rect x="51.3" y="4.7" width="36.8" height="13" fill="#fff" rx="1.6"/>
</g>
<text transform="translate(54.5 15.6) scale(0.72 1)" font-size="14.3" textLength="40.28" lengthAdjust="spacing" stroke="#000" stroke-width="0.18">JP25</text>
<g shape-rendering="geometricPrecision">
<polygon points="83.5,19 98,29.5 89.6,14" fill="#fff"/>
<line x1="83.5" y1="19" x2="98" y2="29.5" stroke="#000" stroke-width="1.5" stroke-linecap="butt"/>
<line x1="89.6" y1="14" x2="98" y2="29.5" stroke="#000" stroke-width="1.5" stroke-linecap="butt"/>
</g>
<g shape-rendering="geometricPrecision">
<rect x="3" y="20" width="40.6" height="17.6" fill="#000" rx="3.2"/>
<rect x="4.7" y="22.3" width="36.6" height="13.6" fill="#fff" rx="1.6"/>
</g>
<text transform="translate(7.1 33.6) scale(0.72 1)" font-size="14.3" textLength="42.22" lengthAdjust="spacing" stroke="#000" stroke-width="0.18">JP28</text>
<g shape-rendering="geometricPrecision">
<polygon points="39.6,26.4 43.6,26.4 52,28.9 52,29.9 43.6,32.4 39.6,32.4" fill="#fff"/>
<line x1="42.8" y1="26.1" x2="52.5" y2="28.2" stroke="#000" stroke-width="1.6" stroke-linecap="butt"/>
<line x1="42.8" y1="32.7" x2="52.5" y2="30.6" stroke="#000" stroke-width="1.6" stroke-linecap="butt"/>
<polygon points="50.4,28.4 52,27.4 56.8,27.4 56.8,31.4 52,31.4 50.4,30.4 51.8,29.4" fill="#000"/>
<rect x="56.8" y="28.4" width="2.6" height="2" fill="#000"/>
</g>
<g shape-rendering="geometricPrecision">
<rect x="35.6" y="42.4" width="41.4" height="16" fill="#000" rx="3.2"/>
<rect x="37.3" y="44.1" width="37.4" height="12" fill="#fff" rx="1.6"/>
</g>
<text transform="translate(40.5 54.2) scale(0.72 1)" font-size="14.3" textLength="41.67" lengthAdjust="spacing" stroke="#000" stroke-width="0.18">JP27</text>
<g shape-rendering="geometricPrecision">
<polygon points="70,43 84,33 76.4,48" fill="#fff"/>
<line x1="70" y1="43" x2="84" y2="33" stroke="#000" stroke-width="1.5" stroke-linecap="butt"/>
<line x1="76.4" y1="48" x2="84" y2="33" stroke="#000" stroke-width="1.5" stroke-linecap="butt"/>
</g>
<g shape-rendering="geometricPrecision">
<rect x="157" y="39.4" width="33.4" height="18" fill="#000" rx="3.2"/>
<rect x="158.7" y="41.1" width="29.4" height="14" fill="#fff" rx="1.6"/>
</g>
<text transform="translate(161.5 52) scale(0.72 1)" font-size="14.3" textLength="29.17" lengthAdjust="spacing" stroke="#000" stroke-width="0.18">J16</text>
<g shape-rendering="geometricPrecision">
<polygon points="157.6,44.5 150.5,33.2 163.5,39.8" fill="#fff"/>
<line x1="157.6" y1="44.5" x2="150.5" y2="33.2" stroke="#000" stroke-width="1.5" stroke-linecap="butt"/>
<line x1="163.5" y1="39.8" x2="150.5" y2="33.2" stroke="#000" stroke-width="1.5" stroke-linecap="butt"/>
</g>
<g shape-rendering="geometricPrecision">
<rect x="193" y="20.6" width="25" height="17.4" fill="#000" rx="3.2"/>
<rect x="194.7" y="22.3" width="21" height="13.4" fill="#fff" rx="1.6"/>
</g>
<text transform="translate(195.9 34) scale(0.72 1)" font-size="14.3" textLength="20.28" lengthAdjust="spacing" stroke="#000" stroke-width="0.18">S1</text>
<g shape-rendering="geometricPrecision">
<polygon points="197,26 193,26 185,28.8 185,29.8 193,32.6 197,32.6" fill="#fff"/>
<line x1="193.8" y1="25.7" x2="184.5" y2="28.1" stroke="#000" stroke-width="1.6" stroke-linecap="butt"/>
<line x1="193.8" y1="32.9" x2="184.5" y2="30.5" stroke="#000" stroke-width="1.6" stroke-linecap="butt"/>
<polygon points="186.6,28.3 185,27.3 180.2,27.3 180.2,31.3 185,31.3 186.6,30.3 185.2,29.3" fill="#000"/>
<rect x="177.6" y="28.3" width="2.6" height="2" fill="#000"/>
</g>
<g shape-rendering="geometricPrecision">
<rect x="76" y="102.4" width="41.6" height="16.6" fill="#000" rx="3.2"/>
<rect x="77.7" y="104.1" width="37.6" height="12.6" fill="#fff" rx="1.6"/>
</g>
<text transform="translate(80.5 115) scale(0.72 1)" font-size="14.3" textLength="41.67" lengthAdjust="spacing" stroke="#000" stroke-width="0.18">JP21</text>
<g shape-rendering="geometricPrecision">
<polygon points="77,106 69.5,94.5 81,103" fill="#fff"/>
<line x1="77" y1="106" x2="69.5" y2="94.5" stroke="#000" stroke-width="1.6" stroke-linecap="butt"/>
<line x1="81" y1="103" x2="69.5" y2="94.5" stroke="#000" stroke-width="1.6" stroke-linecap="butt"/>
</g>
<g shape-rendering="geometricPrecision">
<rect x="76.8" y="165" width="39.2" height="16.6" fill="#000" rx="3.2"/>
<rect x="78.5" y="166.7" width="35.2" height="12.6" fill="#fff" rx="1.6"/>
</g>
<text transform="translate(80.5 177) scale(0.72 1)" font-size="14.3" textLength="41.67" lengthAdjust="spacing" stroke="#000" stroke-width="0.18">JP31</text>
<line x1="69" y1="189" x2="79.5" y2="179.5" stroke="#000" stroke-width="3.2" stroke-linecap="butt"/>
<g shape-rendering="geometricPrecision">
<rect x="83" y="186.4" width="42" height="18" fill="#000" rx="3.2"/>
<rect x="84.7" y="188.1" width="38" height="14" fill="#fff" rx="1.6"/>
</g>
<text transform="translate(88.5 199) scale(0.72 1)" font-size="14.3" textLength="41.67" lengthAdjust="spacing" stroke="#000" stroke-width="0.18">JP30</text>
<g shape-rendering="geometricPrecision">
<polygon points="87,191.6 83,191.6 76,194.6 76,195.6 83,198.6 87,198.6" fill="#fff"/>
<line x1="83.8" y1="191.3" x2="75.5" y2="193.9" stroke="#000" stroke-width="1.6" stroke-linecap="butt"/>
<line x1="83.8" y1="198.9" x2="75.5" y2="196.3" stroke="#000" stroke-width="1.6" stroke-linecap="butt"/>
<polygon points="77.6,194.1 76,193.1 71.2,193.1 71.2,197.1 76,197.1 77.6,196.1 76.2,195.1" fill="#000"/>
<rect x="68.6" y="194.1" width="2.6" height="2" fill="#000"/>
</g>
<g shape-rendering="geometricPrecision">
<rect x="197" y="183" width="36" height="18" fill="#000" rx="3.2"/>
<rect x="198.7" y="184.7" width="32" height="14" fill="#fff" rx="1.6"/>
</g>
<text transform="translate(201.5 196.4) scale(0.72 1)" font-size="14.3" textLength="31.39" lengthAdjust="spacing" stroke="#000" stroke-width="0.18">JP9</text>
<g shape-rendering="geometricPrecision">
<polygon points="201,189 197,189 190,192 190,193 197,196 201,196" fill="#fff"/>
<line x1="197.8" y1="188.7" x2="189.5" y2="191.3" stroke="#000" stroke-width="1.6" stroke-linecap="butt"/>
<line x1="197.8" y1="196.3" x2="189.5" y2="193.7" stroke="#000" stroke-width="1.6" stroke-linecap="butt"/>
<polygon points="191.6,191.5 190,190.5 185,190.5 185,194.5 190,194.5 191.6,193.5 190.2,192.5" fill="#000"/>
<rect x="182" y="191.5" width="3" height="2" fill="#000"/>
</g>
<g shape-rendering="geometricPrecision">
<rect x="282.1" y="260" width="36" height="18.8" fill="#000" rx="3.2"/>
<rect x="283.8" y="261.7" width="32" height="14.8" fill="#fff" rx="1.6"/>
</g>
<text transform="translate(287.3 272.9) scale(0.72 1)" font-size="14.3" textLength="31.81" lengthAdjust="spacing" stroke="#000" stroke-width="0.18">JP4</text>
<g shape-rendering="geometricPrecision">
<polygon points="314.1,267.4 318.1,267.4 325,268.9 325,269.9 318.1,271.4 314.1,271.4" fill="#fff"/>
<line x1="317.3" y1="267.1" x2="325.5" y2="268.2" stroke="#000" stroke-width="1.6" stroke-linecap="butt"/>
<line x1="317.3" y1="271.7" x2="325.5" y2="270.6" stroke="#000" stroke-width="1.6" stroke-linecap="butt"/>
<polygon points="323.4,268.4 325,267.4 329.8,267.4 329.8,271.4 325,271.4 323.4,270.4 324.8,269.4" fill="#000"/>
<rect x="329.8" y="268.4" width="2.6" height="2" fill="#000"/>
</g>
<g shape-rendering="geometricPrecision">
<rect x="573" y="51" width="36" height="18.6" fill="#000" rx="3.2"/>
<rect x="574.7" y="52.7" width="32" height="14.6" fill="#fff" rx="1.6"/>
</g>
<text transform="translate(578.5 65) scale(0.72 1)" font-size="14.3" textLength="29.17" lengthAdjust="spacing" stroke="#000" stroke-width="0.18">JP1</text>
<g shape-rendering="geometricPrecision">
<polygon points="605,56.6 609,56.6 617,59.6 617,60.6 609,63.6 605,63.6" fill="#fff"/>
<line x1="608.2" y1="56.3" x2="617.5" y2="58.9" stroke="#000" stroke-width="1.6" stroke-linecap="butt"/>
<line x1="608.2" y1="63.9" x2="617.5" y2="61.3" stroke="#000" stroke-width="1.6" stroke-linecap="butt"/>
<polygon points="615.4,59.1 617,58.1 620.8,58.1 620.8,62.1 617,62.1 615.4,61.1 616.8,60.1" fill="#000"/>
<rect x="620.8" y="59.1" width="2.6" height="2" fill="#000"/>
</g>
<g shape-rendering="geometricPrecision">
<rect x="120" y="227.4" width="42" height="17.2" fill="#000" rx="3.2"/>
<rect x="121.7" y="229.1" width="38" height="13.2" fill="#fff" rx="1.6"/>
</g>
<text transform="translate(124.5 240) scale(0.72 1)" font-size="14.3" textLength="41.67" lengthAdjust="spacing" stroke="#000" stroke-width="0.18">JP22</text>
<g shape-rendering="geometricPrecision">
<polygon points="120.7,242.5 113.4,254 127,244.2" fill="#fff"/>
<line x1="120.7" y1="242.5" x2="113.4" y2="254" stroke="#000" stroke-width="1.5" stroke-linecap="butt"/>
<line x1="127" y1="244.2" x2="113.4" y2="254" stroke="#000" stroke-width="1.5" stroke-linecap="butt"/>
</g>
<g shape-rendering="geometricPrecision">
<rect x="39" y="243.4" width="41" height="17.6" fill="#000" rx="3.2"/>
<rect x="40.7" y="245.1" width="37" height="13.6" fill="#fff" rx="1.6"/>
</g>
<text transform="translate(45.1 257) scale(0.72 1)" font-size="14.3" textLength="41.39" lengthAdjust="spacing" stroke="#000" stroke-width="0.18">JP26</text>
<g shape-rendering="geometricPrecision">
<polygon points="76,248.6 80,248.6 88,251.5 88,252.5 80,255.4 76,255.4" fill="#fff"/>
<line x1="79.2" y1="248.3" x2="88.5" y2="250.8" stroke="#000" stroke-width="1.6" stroke-linecap="butt"/>
<line x1="79.2" y1="255.7" x2="88.5" y2="253.2" stroke="#000" stroke-width="1.6" stroke-linecap="butt"/>
<polygon points="86.4,251 88,250 92.8,250 92.8,254 88,254 86.4,253 87.8,252" fill="#000"/>
<rect x="92.8" y="251" width="2.6" height="2" fill="#000"/>
</g>
<g shape-rendering="geometricPrecision">
<rect x="56.4" y="271" width="40.6" height="17.6" fill="#000" rx="3.2"/>
<rect x="58.1" y="272.7" width="36.6" height="13.6" fill="#fff" rx="1.6"/>
</g>
<text transform="translate(61.5 284) scale(0.72 1)" font-size="14.3" textLength="40.28" lengthAdjust="spacing" stroke="#000" stroke-width="0.18">JP23</text>
<g shape-rendering="geometricPrecision">
<polygon points="91,271.7 106,262 96.5,275.6" fill="#fff"/>
<line x1="91" y1="271.7" x2="106" y2="262" stroke="#000" stroke-width="1.5" stroke-linecap="butt"/>
<line x1="96.5" y1="275.6" x2="106" y2="262" stroke="#000" stroke-width="1.5" stroke-linecap="butt"/>
</g>
<g shape-rendering="geometricPrecision">
<rect x="128" y="254.6" width="41.4" height="18.4" fill="#000" rx="3.2"/>
<rect x="129.7" y="256.3" width="37.4" height="14.4" fill="#fff" rx="1.6"/>
</g>
<text transform="translate(131.5 267.4) scale(0.72 1)" font-size="14.3" textLength="41.67" lengthAdjust="spacing" stroke="#000" stroke-width="0.18">JP24</text>
<g shape-rendering="geometricPrecision">
<polygon points="132,259.6 128,259.6 121,262.1 121,263.1 128,267 132,267" fill="#fff"/>
<line x1="128.8" y1="259.3" x2="120.5" y2="261.4" stroke="#000" stroke-width="1.6" stroke-linecap="butt"/>
<line x1="128.8" y1="267.3" x2="120.5" y2="263.8" stroke="#000" stroke-width="1.6" stroke-linecap="butt"/>
<polygon points="122.6,261.6 121,260.6 116,260.6 116,264.6 121,264.6 122.6,263.6 121.2,262.6" fill="#000"/>
<rect x="113.4" y="261.6" width="2.6" height="2" fill="#000"/>
</g>
<g shape-rendering="geometricPrecision">
<rect x="119" y="285.6" width="33" height="16.8" fill="#000" rx="3.2"/>
<rect x="120.7" y="287.3" width="29" height="12.8" fill="#fff" rx="1.6"/>
</g>
<text transform="translate(122.5 298) scale(0.72 1)" font-size="14.3" textLength="33.33" lengthAdjust="spacing" stroke="#000" stroke-width="0.18">TAG</text>
<g shape-rendering="geometricPrecision">
<rect x="187.4" y="310" width="41.6" height="18.4" fill="#000" rx="3.2"/>
<rect x="189.1" y="311.7" width="37.6" height="14.4" fill="#fff" rx="1.6"/>
</g>
<text transform="translate(192.5 324) scale(0.72 1)" font-size="14.3" textLength="41.11" lengthAdjust="spacing" stroke="#000" stroke-width="0.18">JP20</text>
<g shape-rendering="geometricPrecision">
<polygon points="188,323 180,337 192.6,327.8" fill="#fff"/>
<line x1="188" y1="323" x2="180" y2="337" stroke="#000" stroke-width="1.7" stroke-linecap="butt"/>
<line x1="192.6" y1="327.8" x2="180" y2="337" stroke="#000" stroke-width="1.7" stroke-linecap="butt"/>
</g>
<g shape-rendering="geometricPrecision">
<rect x="119" y="338" width="39" height="17" fill="#000" rx="2.3"/>
<rect x="120.7" y="339.7" width="35" height="13" fill="#fff" rx="0.7"/>
</g>
<text transform="translate(123.5 350) scale(0.72 1)" font-size="14.3" textLength="41.67" lengthAdjust="spacing" stroke="#000" stroke-width="0.18">JP17</text>
<g shape-rendering="geometricPrecision">
<polygon points="154,342.6 158,342.6 167,345.5 167,346.5 158,350.4 154,350.4" fill="#fff"/>
<line x1="157.2" y1="342.3" x2="167.5" y2="344.8" stroke="#000" stroke-width="1.6" stroke-linecap="butt"/>
<line x1="157.2" y1="350.7" x2="167.5" y2="347.2" stroke="#000" stroke-width="1.6" stroke-linecap="butt"/>
<polygon points="165.4,345 167,344 172,344 172,348 167,348 165.4,347 166.8,346" fill="#000"/>
<rect x="172" y="345" width="2.6" height="2" fill="#000"/>
</g>
<g shape-rendering="geometricPrecision">
<rect x="229.4" y="340.6" width="39.6" height="17.4" fill="#000" rx="3.2"/>
<rect x="231.1" y="342.3" width="35.6" height="13.4" fill="#fff" rx="1.6"/>
</g>
<text transform="translate(233.5 353) scale(0.72 1)" font-size="14.3" textLength="41.67" lengthAdjust="spacing" stroke="#000" stroke-width="0.18">JP13</text>
<g shape-rendering="geometricPrecision">
<polygon points="233.4,345.6 229.4,345.6 224.6,348.8 224.6,349.8 229.4,353 233.4,353" fill="#fff"/>
<line x1="230.2" y1="345.3" x2="224.1" y2="348.1" stroke="#000" stroke-width="1.6" stroke-linecap="butt"/>
<line x1="230.2" y1="353.3" x2="224.1" y2="350.5" stroke="#000" stroke-width="1.6" stroke-linecap="butt"/>
<polygon points="226.2,348.3 224.6,347.3 219.6,347.3 219.6,351.3 224.6,351.3 226.2,350.3 224.8,349.3" fill="#000"/>
<rect x="214.8" y="348.3" width="4.8" height="2" fill="#000"/>
</g>
<g shape-rendering="geometricPrecision">
<rect x="142" y="363" width="40.6" height="18" fill="#000" rx="3.2"/>
<rect x="143.7" y="364.7" width="36.6" height="14" fill="#fff" rx="1.6"/>
</g>
<text transform="translate(145.5 376) scale(0.72 1)" font-size="14.3" textLength="43.06" lengthAdjust="spacing" stroke="#000" stroke-width="0.18">JP11</text>
<g shape-rendering="geometricPrecision">
<polygon points="178.6,368.6 182.6,368.6 190,371.8 190,372.8 182.6,376 178.6,376" fill="#fff"/>
<line x1="181.8" y1="368.3" x2="190.5" y2="371.1" stroke="#000" stroke-width="1.6" stroke-linecap="butt"/>
<line x1="181.8" y1="376.3" x2="190.5" y2="373.5" stroke="#000" stroke-width="1.6" stroke-linecap="butt"/>
<polygon points="188.4,371.3 190,370.3 193.8,370.3 193.8,374.3 190,374.3 188.4,373.3 189.8,372.3" fill="#000"/>
<rect x="193.8" y="371.3" width="2.6" height="2" fill="#000"/>
</g>
<g shape-rendering="geometricPrecision">
<rect x="237.6" y="360.6" width="40.8" height="16.8" fill="#000" rx="3.2"/>
<rect x="239.3" y="362.3" width="36.8" height="12.8" fill="#fff" rx="1.6"/>
</g>
<text transform="translate(241.9 373) scale(0.72 1)" font-size="14.3" textLength="41.94" lengthAdjust="spacing" stroke="#000" stroke-width="0.18">JP38</text>
<g shape-rendering="geometricPrecision">
<polygon points="241,365.8 237.6,365.8 224,369 237.6,372.2 241,372.2" fill="#fff"/>
<line x1="238.4" y1="365.4" x2="223.4" y2="368.4" stroke="#000" stroke-width="1.5" stroke-linecap="butt"/>
<line x1="238.4" y1="372.6" x2="223.4" y2="369.8" stroke="#000" stroke-width="1.5" stroke-linecap="butt"/>
</g>
<g shape-rendering="geometricPrecision">
<rect x="236" y="382.3" width="40.8" height="18.1" fill="#000" rx="3.2"/>
<rect x="237.7" y="384.6" width="36.8" height="14.1" fill="#fff" rx="1.6"/>
</g>
<text transform="translate(240.3 395.8) scale(0.72 1)" font-size="14.3" textLength="42.78" lengthAdjust="spacing" stroke="#000" stroke-width="0.18">JP10</text>
<path d="M227.6,372.6 C231,376 234,378 237.4,385" fill="none" stroke="#000" stroke-width="2.4" shape-rendering="geometricPrecision"/>
<g shape-rendering="geometricPrecision">
<rect x="68" y="372" width="56" height="14.4" fill="#fff" rx="2"/>
</g>
<text transform="translate(72.1 384) scale(0.72 1)" font-size="14.3" textLength="65.28" lengthAdjust="spacing" stroke="#000" stroke-width="0.18">BANK 0</text>
<g shape-rendering="geometricPrecision">
<rect x="73" y="417" width="46" height="13.8" fill="#fff" rx="1"/>
</g>
<text transform="translate(73.9 429) scale(0.72 1)" font-size="14.3" textLength="61.94" lengthAdjust="spacing" stroke="#000" stroke-width="0.18">CACHE</text>
<g shape-rendering="geometricPrecision">
<rect x="68" y="461.6" width="56" height="14.4" fill="#fff" rx="2"/>
</g>
<text transform="translate(72.1 473.6) scale(0.72 1)" font-size="14.3" textLength="65.83" lengthAdjust="spacing" stroke="#000" stroke-width="0.18">BANK 1</text>
<g shape-rendering="geometricPrecision">
<rect x="116" y="390" width="40" height="16.4" fill="#000" rx="2.3"/>
<rect x="117.7" y="391.7" width="36" height="12.4" fill="#fff" rx="0.7"/>
</g>
<text transform="translate(120.5 402.6) scale(0.72 1)" font-size="14.3" textLength="41.67" lengthAdjust="spacing" stroke="#000" stroke-width="0.18">JP37</text>
<g shape-rendering="geometricPrecision">
<polygon points="148,405.6 166,418 155.4,399" fill="#fff"/>
<line x1="148" y1="405.6" x2="166" y2="418" stroke="#000" stroke-width="1.5" stroke-linecap="butt"/>
<line x1="155.4" y1="399" x2="166" y2="418" stroke="#000" stroke-width="1.5" stroke-linecap="butt"/>
</g>
<g shape-rendering="geometricPrecision">
<rect x="116" y="439.6" width="41" height="16.2" fill="#000" rx="2.3"/>
<rect x="117.7" y="441.3" width="37" height="12.2" fill="#fff" rx="0.7"/>
</g>
<text transform="translate(120.5 451.4) scale(0.72 1)" font-size="14.3" textLength="43.06" lengthAdjust="spacing" stroke="#000" stroke-width="0.18">JP36</text>
<g shape-rendering="geometricPrecision">
<polygon points="149,440.2 166,428 156.4,447" fill="#fff"/>
<line x1="149" y1="440.2" x2="166" y2="428" stroke="#000" stroke-width="1.5" stroke-linecap="butt"/>
<line x1="156.4" y1="447" x2="166" y2="428" stroke="#000" stroke-width="1.5" stroke-linecap="butt"/>
</g>
<g shape-rendering="geometricPrecision">
<rect x="184.6" y="385" width="40" height="17.6" fill="#000" rx="2.3"/>
<rect x="186.3" y="386.7" width="36" height="13.6" fill="#fff" rx="0.7"/>
</g>
<text transform="translate(188.5 398) scale(0.72 1)" font-size="14.3" textLength="41.67" lengthAdjust="spacing" stroke="#000" stroke-width="0.18">JP12</text>
<g shape-rendering="geometricPrecision">
<polygon points="185.2,393 177,411 192,402" fill="#fff"/>
<line x1="185.2" y1="393" x2="177" y2="411" stroke="#000" stroke-width="1.5" stroke-linecap="butt"/>
<line x1="192" y1="402" x2="177" y2="411" stroke="#000" stroke-width="1.5" stroke-linecap="butt"/>
</g>
<g shape-rendering="geometricPrecision">
<rect x="185.4" y="412" width="39.6" height="16" fill="#000" rx="2.3"/>
<rect x="187.1" y="413.7" width="35.6" height="12" fill="#fff" rx="0.7"/>
</g>
<text transform="translate(189.5 424) scale(0.72 1)" font-size="14.3" textLength="41.67" lengthAdjust="spacing" stroke="#000" stroke-width="0.18">JP14</text>
<g shape-rendering="geometricPrecision">
<polygon points="186,420 177,437 193,427.4" fill="#fff"/>
<line x1="186" y1="420" x2="177" y2="437" stroke="#000" stroke-width="1.5" stroke-linecap="butt"/>
<line x1="193" y1="427.4" x2="177" y2="437" stroke="#000" stroke-width="1.5" stroke-linecap="butt"/>
</g>
<g shape-rendering="geometricPrecision">
<rect x="193" y="452" width="39.6" height="15.2" fill="#000" rx="2.3"/>
<rect x="194.7" y="453.7" width="35.6" height="11.2" fill="#fff" rx="0.7"/>
</g>
<text transform="translate(196.9 464) scale(0.72 1)" font-size="14.3" textLength="41.11" lengthAdjust="spacing" stroke="#000" stroke-width="0.18">JP15</text>
<line x1="177" y1="459.2" x2="193.6" y2="459.2" stroke="#000" stroke-width="2.2" stroke-linecap="butt"/>
<g shape-rendering="geometricPrecision">
<rect x="192" y="476" width="38.6" height="14.8" fill="#000" rx="2.3"/>
<rect x="193.7" y="477.7" width="34.6" height="10.8" fill="#fff" rx="0.7"/>
</g>
<text transform="translate(195.5 488) scale(0.72 1)" font-size="14.3" textLength="40.28" lengthAdjust="spacing" stroke="#000" stroke-width="0.18">JP16</text>
<line x1="177" y1="483.4" x2="192.6" y2="483.4" stroke="#000" stroke-width="2.2" stroke-linecap="butt"/>
<rect x="220.6" y="430.7" width="31.2" height="17.1" fill="#000" rx="4"/>
<rect x="222.6" y="432.7" width="27.2" height="13.1" fill="#fff" rx="2.2"/>
<text transform="translate(223.9 444.4) scale(0.72 1)" font-size="14.3" textLength="33.61" lengthAdjust="spacing" stroke="#000" stroke-width="0.18">CPU</text>
<text transform="translate(160.5 502.3) scale(0.85 1)" font-size="11.4" textLength="6.82" lengthAdjust="spacing" stroke="#000" stroke-width="0">3</text>
<text transform="translate(171.1 502.3) scale(0.85 1)" font-size="11.4" textLength="6.82" lengthAdjust="spacing" stroke="#000" stroke-width="0">6</text>
<g shape-rendering="geometricPrecision">
<rect x="227" y="500" width="35" height="18" fill="#000" rx="3.2"/>
<rect x="228.7" y="501.7" width="31" height="14" fill="#fff" rx="1.6"/>
</g>
<text transform="translate(231.5 513.6) scale(0.72 1)" font-size="14.3" textLength="29.17" lengthAdjust="spacing" stroke="#000" stroke-width="0.18">JP8</text>
<g shape-rendering="geometricPrecision">
<polygon points="258,505.6 262,505.6 270,508.5 270,509.5 262,512.4 258,512.4" fill="#fff"/>
<line x1="261.2" y1="505.3" x2="270.5" y2="507.8" stroke="#000" stroke-width="1.6" stroke-linecap="butt"/>
<line x1="261.2" y1="512.7" x2="270.5" y2="510.2" stroke="#000" stroke-width="1.6" stroke-linecap="butt"/>
<polygon points="268.4,508 270,507 273.8,507 273.8,511 270,511 268.4,510 269.8,509" fill="#000"/>
<rect x="273.8" y="508" width="2.6" height="2" fill="#000"/>
</g>
<g shape-rendering="geometricPrecision">
<rect x="303" y="518" width="33" height="18" fill="#000" rx="3.2"/>
<rect x="304.7" y="519.7" width="29" height="14" fill="#fff" rx="1.6"/>
</g>
<text transform="translate(307.5 531) scale(0.72 1)" font-size="14.3" textLength="31.39" lengthAdjust="spacing" stroke="#000" stroke-width="0.18">JP7</text>
<g shape-rendering="geometricPrecision">
<polygon points="303.6,526 297.6,511 311,518.6" fill="#fff"/>
<line x1="303.6" y1="526" x2="297.6" y2="511" stroke="#000" stroke-width="1.5" stroke-linecap="butt"/>
<line x1="311" y1="518.6" x2="297.6" y2="511" stroke="#000" stroke-width="1.5" stroke-linecap="butt"/>
</g>
<g shape-rendering="geometricPrecision">
<rect x="334.4" y="499.6" width="35.2" height="16.8" fill="#000" rx="3.2"/>
<rect x="336.1" y="501.3" width="31.2" height="12.8" fill="#fff" rx="1.6"/>
</g>
<text transform="translate(340.5 511.6) scale(0.72 1)" font-size="14.3" textLength="30.56" lengthAdjust="spacing" stroke="#000" stroke-width="0.18">JP6</text>
<g shape-rendering="geometricPrecision">
<polygon points="338.4,504.6 334.4,504.6 327,507.5 327,508.5 334.4,511.4 338.4,511.4" fill="#fff"/>
<line x1="335.2" y1="504.3" x2="326.5" y2="506.8" stroke="#000" stroke-width="1.6" stroke-linecap="butt"/>
<line x1="335.2" y1="511.7" x2="326.5" y2="509.2" stroke="#000" stroke-width="1.6" stroke-linecap="butt"/>
<polygon points="328.6,507 327,506 322,506 322,510 327,510 328.6,509 327.2,508" fill="#000"/>
<rect x="319" y="507" width="3" height="2" fill="#000"/>
</g>
<g shape-rendering="geometricPrecision">
<rect x="413" y="491.6" width="40.6" height="17.4" fill="#000" rx="3.2"/>
<rect x="414.7" y="493.3" width="36.6" height="13.4" fill="#fff" rx="1.6"/>
</g>
<text transform="translate(417.5 503.6) scale(0.72 1)" font-size="14.3" textLength="41.11" lengthAdjust="spacing" stroke="#000" stroke-width="0.18">JP45</text>
<g shape-rendering="geometricPrecision">
<polygon points="417,496.6 413,496.6 405,499.8 405,500.8 413,504 417,504" fill="#fff"/>
<line x1="413.8" y1="496.3" x2="404.5" y2="499.1" stroke="#000" stroke-width="1.6" stroke-linecap="butt"/>
<line x1="413.8" y1="504.3" x2="404.5" y2="501.5" stroke="#000" stroke-width="1.6" stroke-linecap="butt"/>
<polygon points="406.6,499.3 405,498.3 400.2,498.3 400.2,502.3 405,502.3 406.6,501.3 405.2,500.3" fill="#000"/>
<rect x="397.6" y="499.3" width="2.6" height="2" fill="#000"/>
</g>
<g shape-rendering="geometricPrecision">
<rect x="415" y="398.6" width="57" height="16.2" fill="#000" rx="3.2"/>
<rect x="416.7" y="400.3" width="53" height="12.2" fill="#fff" rx="1.6"/>
</g>
<text transform="translate(419.1 411) scale(0.72 1)" font-size="14.3" textLength="66.67" lengthAdjust="spacing" stroke="#000" stroke-width="0.18">BANK 0</text>
<g shape-rendering="geometricPrecision">
<rect x="410" y="448.4" width="58" height="17" fill="#000" rx="3.2"/>
<rect x="411.7" y="450.1" width="54" height="13" fill="#fff" rx="1.6"/>
</g>
<text transform="translate(415.1 462.4) scale(0.72 1)" font-size="14.3" textLength="65.83" lengthAdjust="spacing" stroke="#000" stroke-width="0.18">BANK 1</text>
<g shape-rendering="geometricPrecision">
<rect x="410" y="467.6" width="58" height="16.8" fill="#000" rx="3.2"/>
<rect x="411.7" y="469.3" width="54" height="12.8" fill="#fff" rx="1.6"/>
</g>
<text transform="translate(415.1 480.2) scale(0.72 1)" font-size="14.3" textLength="65.83" lengthAdjust="spacing" stroke="#000" stroke-width="0.18">BANK 2</text>
<g shape-rendering="geometricPrecision">
<rect x="582.4" y="364.4" width="35.2" height="18" fill="#000" rx="3.2"/>
<rect x="584.1" y="366.1" width="31.2" height="14" fill="#fff" rx="1.6"/>
</g>
<text transform="translate(587.1 377) scale(0.72 1)" font-size="14.3" textLength="32.5" lengthAdjust="spacing" stroke="#000" stroke-width="0.18">JP3</text>
<g shape-rendering="geometricPrecision">
<polygon points="586.4,369.6 582.4,369.6 575,372.1 575,373.1 582.4,377 586.4,377" fill="#fff"/>
<line x1="583.2" y1="369.3" x2="574.5" y2="371.4" stroke="#000" stroke-width="1.6" stroke-linecap="butt"/>
<line x1="583.2" y1="377.3" x2="574.5" y2="373.8" stroke="#000" stroke-width="1.6" stroke-linecap="butt"/>
<polygon points="576.6,371.6 575,370.6 570.2,370.6 570.2,374.6 575,374.6 576.6,373.6 575.2,372.6" fill="#000"/>
<rect x="567.6" y="371.6" width="2.6" height="2" fill="#000"/>
</g>
<g shape-rendering="geometricPrecision">
<rect x="554.4" y="272.6" width="41.2" height="16.8" fill="#000" rx="3.2"/>
<rect x="556.1" y="274.3" width="37.2" height="12.8" fill="#fff" rx="1.6"/>
</g>
<text transform="translate(559.1 285) scale(0.72 1)" font-size="14.3" textLength="41.39" lengthAdjust="spacing" stroke="#000" stroke-width="0.18">JP48</text>
<g shape-rendering="geometricPrecision">
<polygon points="590.5,289 604,297.5 595,285.5" fill="#fff"/>
<line x1="590.5" y1="289" x2="604" y2="297.5" stroke="#000" stroke-width="1.5" stroke-linecap="butt"/>
<line x1="595" y1="285.5" x2="604" y2="297.5" stroke="#000" stroke-width="1.5" stroke-linecap="butt"/>
</g>
<g shape-rendering="geometricPrecision">
<rect x="535" y="294.6" width="39.4" height="16.6" fill="#000" rx="1.8"/>
<rect x="536.7" y="296.3" width="35.4" height="12.6" fill="#fff" rx="0.5"/>
</g>
<text transform="translate(536.9 307) scale(0.72 1)" font-size="14.3" textLength="42.78" lengthAdjust="spacing" stroke="#000" stroke-width="0.18">JP47</text>
<g shape-rendering="geometricPrecision">
<polygon points="570.4,299.6 574.4,299.6 582,302.6 582,303.6 574.4,306.6 570.4,306.6" fill="#fff"/>
<line x1="573.6" y1="299.3" x2="582.5" y2="301.9" stroke="#000" stroke-width="1.6" stroke-linecap="butt"/>
<line x1="573.6" y1="306.9" x2="582.5" y2="304.3" stroke="#000" stroke-width="1.6" stroke-linecap="butt"/>
<polygon points="580.4,302.1 582,301.1 587,301.1 587,305.1 582,305.1 580.4,304.1 581.8,303.1" fill="#000"/>
<rect x="587" y="302.1" width="3.4" height="2" fill="#000"/>
</g>
<g shape-rendering="geometricPrecision">
<rect x="631" y="294.6" width="41" height="17" fill="#000" rx="3.2"/>
<rect x="632.7" y="296.3" width="37" height="13" fill="#fff" rx="1.6"/>
</g>
<text transform="translate(634.5 307) scale(0.72 1)" font-size="14.3" textLength="43.06" lengthAdjust="spacing" stroke="#000" stroke-width="0.18">JP46</text>
<g shape-rendering="geometricPrecision">
<polygon points="635,299.6 631,299.6 623,302.6 623,303.6 631,306.6 635,306.6" fill="#fff"/>
<line x1="631.8" y1="299.3" x2="622.5" y2="301.9" stroke="#000" stroke-width="1.6" stroke-linecap="butt"/>
<line x1="631.8" y1="306.9" x2="622.5" y2="304.3" stroke="#000" stroke-width="1.6" stroke-linecap="butt"/>
<polygon points="624.6,302.1 623,301.1 618.2,301.1 618.2,305.1 623,305.1 624.6,304.1 623.2,303.1" fill="#000"/>
<rect x="615.6" y="302.1" width="2.6" height="2" fill="#000"/>
</g>
<g shape-rendering="geometricPrecision">
<rect x="546.4" y="316" width="35.6" height="17.4" fill="#000" rx="3.2"/>
<rect x="548.1" y="317.7" width="31.6" height="13.4" fill="#fff" rx="1.6"/>
</g>
<text transform="translate(551.5 328) scale(0.72 1)" font-size="14.3" textLength="29.17" lengthAdjust="spacing" stroke="#000" stroke-width="0.18">JP2</text>
<g shape-rendering="geometricPrecision">
<polygon points="578,321 582,321 589,323.5 589,324.5 582,328 578,328" fill="#fff"/>
<line x1="581.2" y1="320.7" x2="589.5" y2="322.8" stroke="#000" stroke-width="1.6" stroke-linecap="butt"/>
<line x1="581.2" y1="328.3" x2="589.5" y2="325.2" stroke="#000" stroke-width="1.6" stroke-linecap="butt"/>
<polygon points="587.4,323 589,322 594,322 594,326 589,326 587.4,325 588.8,324" fill="#000"/>
<rect x="594" y="323" width="2.8" height="2" fill="#000"/>
</g>
<g shape-rendering="geometricPrecision">
<rect x="632" y="329" width="25.6" height="17" fill="#000" rx="3.2"/>
<rect x="633.7" y="330.7" width="21.6" height="13" fill="#fff" rx="1.6"/>
</g>
<text transform="translate(635.5 342) scale(0.72 1)" font-size="14.3" textLength="19.44" lengthAdjust="spacing" stroke="#000" stroke-width="0.18">J2</text>
<g shape-rendering="geometricPrecision">
<polygon points="636,334 632,334 625,337.5 625,338.5 632,341.4 636,341.4" fill="#fff"/>
<line x1="632.8" y1="333.7" x2="624.5" y2="336.8" stroke="#000" stroke-width="1.6" stroke-linecap="butt"/>
<line x1="632.8" y1="341.7" x2="624.5" y2="339.2" stroke="#000" stroke-width="1.6" stroke-linecap="butt"/>
<polygon points="626.6,337 625,336 620,336 620,340 625,340 626.6,339 625.2,338" fill="#000"/>
<rect x="617.2" y="337" width="2.8" height="2" fill="#000"/>
</g>
</svg>
</body></html>
